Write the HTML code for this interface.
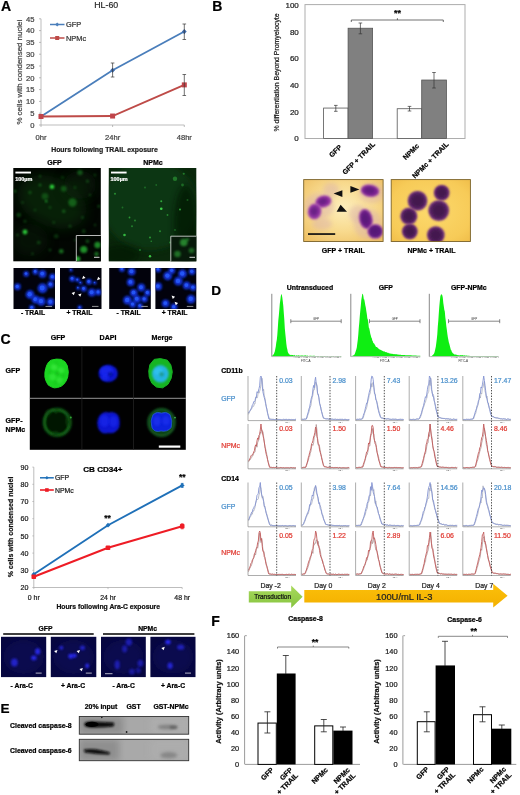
<!DOCTYPE html>
<html><head><meta charset="utf-8"><title>Figure</title>
<style>
html,body{margin:0;padding:0;background:#fff;}
body{width:520px;height:795px;overflow:hidden;}
svg{display:block;font-family:"Liberation Sans", sans-serif;filter:blur(0.3px);}
</style></head>
<body>
<svg width="520" height="795" viewBox="0 0 520 795" style='font-family:"Liberation Sans", sans-serif'>
<rect x="0" y="0" width="520" height="795" fill="#fff"/>
<defs>
<filter id="b05" x="-50%" y="-50%" width="200%" height="200%"><feGaussianBlur stdDeviation="0.5"/></filter>
<filter id="b08" x="-50%" y="-50%" width="200%" height="200%"><feGaussianBlur stdDeviation="0.8"/></filter>
<filter id="b1" x="-50%" y="-50%" width="200%" height="200%"><feGaussianBlur stdDeviation="1"/></filter>
<filter id="b15" x="-50%" y="-50%" width="200%" height="200%"><feGaussianBlur stdDeviation="1.5"/></filter>
<filter id="b2" x="-50%" y="-50%" width="200%" height="200%"><feGaussianBlur stdDeviation="2"/></filter>
<filter id="b12" x="-50%" y="-50%" width="200%" height="200%"><feGaussianBlur stdDeviation="1.2"/></filter>
<filter id="b6" x="-50%" y="-50%" width="200%" height="200%"><feGaussianBlur stdDeviation="6"/></filter>
<filter id="b3" x="-50%" y="-50%" width="200%" height="200%"><feGaussianBlur stdDeviation="3"/></filter>
<radialGradient id="tanA" cx="50%" cy="45%" r="70%"><stop offset="0" stop-color="#fdeebc"/><stop offset="0.55" stop-color="#f8da8e"/><stop offset="1" stop-color="#eec064"/></radialGradient>
<radialGradient id="tanB" cx="50%" cy="50%" r="75%"><stop offset="0" stop-color="#fcd96c"/><stop offset="0.7" stop-color="#f7cb58"/><stop offset="1" stop-color="#eeba46"/></radialGradient>
<linearGradient id="grn" x1="0" y1="0" x2="0" y2="1"><stop offset="0" stop-color="#a9d95c"/><stop offset="1" stop-color="#86c440"/></linearGradient>
<linearGradient id="org" x1="0" y1="0" x2="0" y2="1"><stop offset="0" stop-color="#fcc00a"/><stop offset="1" stop-color="#f3b000"/></linearGradient>
<clipPath id="cA1"><rect x="13.3" y="168" width="87.5" height="93.3"/></clipPath>
<clipPath id="cA2"><rect x="108.8" y="168" width="87.5" height="93.3"/></clipPath>
<clipPath id="cI1"><rect x="76.3" y="235.5" width="24.5" height="25.8"/></clipPath>
<clipPath id="cI2"><rect x="170.8" y="236.2" width="25.5" height="25.1"/></clipPath>
<clipPath id="cB1"><rect x="303.7" y="179.6" width="79.4" height="61.9"/></clipPath>
<clipPath id="cB2"><rect x="391.2" y="179.6" width="79.2" height="61.9"/></clipPath>
<clipPath id="cC"><rect x="29.8" y="346.2" width="156" height="103.6"/></clipPath>
<clipPath id="cE1"><rect x="79.3" y="716.5" width="109.4" height="17.7"/></clipPath>
<clipPath id="cE2"><rect x="79.3" y="739.3" width="109.4" height="21.4"/></clipPath>
</defs>
<text x="1.0" y="10.8" font-size="14" font-weight="bold" fill="#000" stroke="#000" stroke-width="0.22" text-anchor="start">A</text>
<text x="106.2" y="8" font-size="8.8" font-weight="normal" fill="#2a2a2a" stroke="#2a2a2a" stroke-width="0.22" text-anchor="middle">HL-60</text>
<line x1="41" y1="18.80000000000001" x2="41" y2="125.0" stroke="#a0a0a0" stroke-width="0.7"/>
<line x1="41" y1="125.0" x2="184.3" y2="125.0" stroke="#a0a0a0" stroke-width="0.7"/>
<line x1="39" y1="125.0" x2="41" y2="125.0" stroke="#a0a0a0" stroke-width="0.7"/>
<text x="34.4" y="127.7" font-size="7.6" font-weight="normal" fill="#444" stroke="#444" stroke-width="0.22" text-anchor="end">0</text>
<line x1="39" y1="113.2" x2="41" y2="113.2" stroke="#a0a0a0" stroke-width="0.7"/>
<text x="34.4" y="115.9" font-size="7.6" font-weight="normal" fill="#444" stroke="#444" stroke-width="0.22" text-anchor="end">5</text>
<line x1="39" y1="101.4" x2="41" y2="101.4" stroke="#a0a0a0" stroke-width="0.7"/>
<text x="34.4" y="104.10000000000001" font-size="7.6" font-weight="normal" fill="#444" stroke="#444" stroke-width="0.22" text-anchor="end">10</text>
<line x1="39" y1="89.6" x2="41" y2="89.6" stroke="#a0a0a0" stroke-width="0.7"/>
<text x="34.4" y="92.3" font-size="7.6" font-weight="normal" fill="#444" stroke="#444" stroke-width="0.22" text-anchor="end">15</text>
<line x1="39" y1="77.80000000000001" x2="41" y2="77.80000000000001" stroke="#a0a0a0" stroke-width="0.7"/>
<text x="34.4" y="80.50000000000001" font-size="7.6" font-weight="normal" fill="#444" stroke="#444" stroke-width="0.22" text-anchor="end">20</text>
<line x1="39" y1="66.0" x2="41" y2="66.0" stroke="#a0a0a0" stroke-width="0.7"/>
<text x="34.4" y="68.7" font-size="7.6" font-weight="normal" fill="#444" stroke="#444" stroke-width="0.22" text-anchor="end">25</text>
<line x1="39" y1="54.2" x2="41" y2="54.2" stroke="#a0a0a0" stroke-width="0.7"/>
<text x="34.4" y="56.900000000000006" font-size="7.6" font-weight="normal" fill="#444" stroke="#444" stroke-width="0.22" text-anchor="end">30</text>
<line x1="39" y1="42.400000000000006" x2="41" y2="42.400000000000006" stroke="#a0a0a0" stroke-width="0.7"/>
<text x="34.4" y="45.10000000000001" font-size="7.6" font-weight="normal" fill="#444" stroke="#444" stroke-width="0.22" text-anchor="end">35</text>
<line x1="39" y1="30.60000000000001" x2="41" y2="30.60000000000001" stroke="#a0a0a0" stroke-width="0.7"/>
<text x="34.4" y="33.30000000000001" font-size="7.6" font-weight="normal" fill="#444" stroke="#444" stroke-width="0.22" text-anchor="end">40</text>
<line x1="39" y1="18.80000000000001" x2="41" y2="18.80000000000001" stroke="#a0a0a0" stroke-width="0.7"/>
<text x="34.4" y="21.50000000000001" font-size="7.6" font-weight="normal" fill="#444" stroke="#444" stroke-width="0.22" text-anchor="end">45</text>
<line x1="41" y1="125.0" x2="41" y2="127.0" stroke="#a0a0a0" stroke-width="0.7"/>
<line x1="112.6" y1="125.0" x2="112.6" y2="127.0" stroke="#a0a0a0" stroke-width="0.7"/>
<line x1="184.3" y1="125.0" x2="184.3" y2="127.0" stroke="#a0a0a0" stroke-width="0.7"/>
<text x="21.6" y="72.2" font-size="7.9" font-weight="normal" fill="#444" stroke="#444" stroke-width="0.22" text-anchor="middle" transform="rotate(-90 21.6 72.2)">% cells with condensed nuclei</text>
<text x="41" y="139.8" font-size="7.6" font-weight="normal" fill="#444" stroke="#444" stroke-width="0.22" text-anchor="middle">0hr</text>
<text x="112.6" y="139.8" font-size="7.6" font-weight="normal" fill="#444" stroke="#444" stroke-width="0.22" text-anchor="middle">24hr</text>
<text x="184.3" y="139.8" font-size="7.6" font-weight="normal" fill="#444" stroke="#444" stroke-width="0.22" text-anchor="middle">48hr</text>
<text x="104.5" y="151.5" font-size="6.9" font-weight="bold" fill="#222" stroke="#222" stroke-width="0.22" text-anchor="middle">Hours following TRAIL exposure</text>
<polyline fill="none" stroke="#4a7ebb" stroke-width="1.8" points="41.0,116.5 112.6,70.2 184.3,31.5"/>
<polyline fill="none" stroke="#be4b48" stroke-width="1.9" points="41.0,116.5 112.6,116.0 184.3,84.9"/>
<path d="M41 113.90400000000001 L43.4 116.504 L41 119.104 L38.6 116.504 Z" fill="#3f6cad"/>
<path d="M112.6 67.64800000000001 L115.0 70.248 L112.6 72.848 L110.19999999999999 70.248 Z" fill="#3f6cad"/>
<path d="M184.3 28.943999999999996 L186.70000000000002 31.543999999999997 L184.3 34.144 L181.9 31.543999999999997 Z" fill="#3f6cad"/>
<rect x="38.5" y="114.004" width="5" height="5" fill="#c0444a" stroke="none" stroke-width="1"/>
<rect x="110.1" y="113.532" width="5" height="5" fill="#c0444a" stroke="none" stroke-width="1"/>
<rect x="181.8" y="82.38" width="5" height="5" fill="#c0444a" stroke="none" stroke-width="1"/>
<line x1="112.6" y1="63" x2="112.6" y2="77" stroke="#333" stroke-width="0.7"/>
<line x1="110.8" y1="63" x2="114.39999999999999" y2="63" stroke="#333" stroke-width="0.7"/>
<line x1="110.8" y1="77" x2="114.39999999999999" y2="77" stroke="#333" stroke-width="0.7"/>
<line x1="184.3" y1="24" x2="184.3" y2="39.5" stroke="#333" stroke-width="0.7"/>
<line x1="182.5" y1="24" x2="186.10000000000002" y2="24" stroke="#333" stroke-width="0.7"/>
<line x1="182.5" y1="39.5" x2="186.10000000000002" y2="39.5" stroke="#333" stroke-width="0.7"/>
<line x1="184.3" y1="74.5" x2="184.3" y2="95.5" stroke="#333" stroke-width="0.7"/>
<line x1="182.5" y1="74.5" x2="186.10000000000002" y2="74.5" stroke="#333" stroke-width="0.7"/>
<line x1="182.5" y1="95.5" x2="186.10000000000002" y2="95.5" stroke="#333" stroke-width="0.7"/>
<line x1="50" y1="24.5" x2="64.5" y2="24.5" stroke="#4a7ebb" stroke-width="1.5"/>
<path d="M57.2 22.5 L59.2 24.5 L57.2 26.5 L55.2 24.5 Z" fill="#4a7ebb"/>
<text x="66" y="27.3" font-size="7.4" font-weight="normal" fill="#333" stroke="#333" stroke-width="0.22" text-anchor="start">GFP</text>
<line x1="50" y1="38" x2="64.5" y2="38" stroke="#be4b48" stroke-width="1.5"/>
<rect x="55.2" y="36" width="4" height="4" fill="#be4b48" stroke="none" stroke-width="1"/>
<text x="66" y="40.8" font-size="7.4" font-weight="normal" fill="#333" stroke="#333" stroke-width="0.22" text-anchor="start">NPMc</text>
<text x="54.4" y="164.8" font-size="7" font-weight="bold" fill="#000" stroke="#000" stroke-width="0.22" text-anchor="middle">GFP</text>
<text x="153" y="164.6" font-size="7" font-weight="bold" fill="#000" stroke="#000" stroke-width="0.22" text-anchor="middle">NPMc</text>
<rect x="13.3" y="168" width="87.5" height="93.3" fill="#020602" stroke="none" stroke-width="1"/>
<g clip-path="url(#cA1)">
<ellipse cx="52.00" cy="202.00" rx="36.00" ry="24.00" fill="#0f3a10" opacity="0.5" filter="url(#b6)" transform="rotate(25 52 202)"/>
<ellipse cx="30.00" cy="240.00" rx="18.00" ry="16.00" fill="#0a2a0b" opacity="0.35" filter="url(#b6)"/>
<ellipse cx="80.00" cy="185.00" rx="16.00" ry="14.00" fill="#0a2a0b" opacity="0.5" filter="url(#b6)"/>
<circle cx="52.00" cy="186.75" r="2.31" fill="#35f044" opacity="0.85" filter="url(#b08)"/>
<circle cx="72.50" cy="202.50" r="4.20" fill="#35f044" opacity="0.30" filter="url(#b12)"/>
<circle cx="63.75" cy="188.75" r="2.94" fill="#35f044" opacity="0.25" filter="url(#b12)"/>
<circle cx="25.00" cy="232.00" r="2.42" fill="#35f044" opacity="0.81" filter="url(#b08)"/>
<circle cx="80.00" cy="172.50" r="2.73" fill="#35f044" opacity="0.29" filter="url(#b12)"/>
<circle cx="61.25" cy="251.25" r="2.31" fill="#35f044" opacity="0.43" filter="url(#b12)"/>
<circle cx="45.00" cy="196.25" r="3.36" fill="#35f044" opacity="0.22" filter="url(#b12)"/>
<circle cx="18.75" cy="215.00" r="2.31" fill="#35f044" opacity="0.25" filter="url(#b12)"/>
<circle cx="40.00" cy="185.00" r="1.37" fill="#35f044" opacity="0.36" filter="url(#b12)"/>
<circle cx="30.00" cy="192.50" r="1.68" fill="#35f044" opacity="0.22" filter="url(#b12)"/>
<circle cx="87.50" cy="181.25" r="1.47" fill="#35f044" opacity="0.25" filter="url(#b12)"/>
<circle cx="15.00" cy="191.25" r="1.47" fill="#35f044" opacity="0.29" filter="url(#b12)"/>
<circle cx="63.75" cy="211.25" r="1.68" fill="#35f044" opacity="0.29" filter="url(#b12)"/>
<circle cx="82.50" cy="217.50" r="1.37" fill="#35f044" opacity="0.25" filter="url(#b12)"/>
<circle cx="46.25" cy="201.25" r="1.05" fill="#35f044" opacity="0.81" filter="url(#b08)"/>
<circle cx="98.75" cy="206.25" r="1.47" fill="#35f044" opacity="0.25" filter="url(#b12)"/>
<circle cx="25.00" cy="221.25" r="1.37" fill="#35f044" opacity="0.25" filter="url(#b12)"/>
<circle cx="38.75" cy="242.50" r="1.78" fill="#35f044" opacity="0.22" filter="url(#b12)"/>
<circle cx="50.00" cy="250.00" r="1.37" fill="#35f044" opacity="0.25" filter="url(#b12)"/>
<circle cx="32.50" cy="253.75" r="1.37" fill="#35f044" opacity="0.22" filter="url(#b12)"/>
<circle cx="83.75" cy="231.25" r="1.89" fill="#35f044" opacity="0.22" filter="url(#b12)"/>
<circle cx="17.50" cy="235.00" r="1.37" fill="#35f044" opacity="0.25" filter="url(#b12)"/>
<circle cx="70.00" cy="226.25" r="1.47" fill="#35f044" opacity="0.22" filter="url(#b12)"/>
<circle cx="56.25" cy="236.25" r="2.31" fill="#35f044" opacity="0.18" filter="url(#b12)"/>
<circle cx="40.00" cy="176.25" r="1.16" fill="#35f044" opacity="0.29" filter="url(#b12)"/>
<circle cx="62.50" cy="177.50" r="1.16" fill="#35f044" opacity="0.25" filter="url(#b12)"/>
<circle cx="75.00" cy="187.50" r="1.26" fill="#35f044" opacity="0.22" filter="url(#b12)"/>
<circle cx="90.00" cy="195.00" r="1.26" fill="#35f044" opacity="0.22" filter="url(#b12)"/>
<circle cx="35.00" cy="210.00" r="1.37" fill="#35f044" opacity="0.18" filter="url(#b12)"/>
<circle cx="22.50" cy="202.50" r="1.26" fill="#35f044" opacity="0.22" filter="url(#b12)"/>
<circle cx="53.75" cy="222.50" r="1.26" fill="#35f044" opacity="0.22" filter="url(#b12)"/>
<circle cx="75.00" cy="240.00" r="1.37" fill="#35f044" opacity="0.18" filter="url(#b12)"/>
<circle cx="95.00" cy="225.00" r="1.26" fill="#35f044" opacity="0.22" filter="url(#b12)"/>
<circle cx="30.00" cy="180.00" r="1.26" fill="#35f044" opacity="0.22" filter="url(#b12)"/>
<circle cx="95.00" cy="175.00" r="1.26" fill="#35f044" opacity="0.22" filter="url(#b12)"/>
<circle cx="50.00" cy="207.50" r="1.47" fill="#35f044" opacity="0.18" filter="url(#b12)"/>
</g>
<rect x="76.3" y="235.5" width="24.5" height="25.8" fill="#020702" stroke="none" stroke-width="1"/>
<g clip-path="url(#cI1)">
<circle cx="83.75" cy="249.50" r="3.60" fill="#2fd03e" opacity="0.68" filter="url(#b08)"/>
<circle cx="97.50" cy="245.00" r="3.20" fill="#2fd03e" opacity="0.64" filter="url(#b08)"/>
<circle cx="96.50" cy="254.00" r="2.20" fill="#2fd03e" opacity="0.51" filter="url(#b08)"/>
<circle cx="77.50" cy="259.00" r="2.80" fill="#2fd03e" opacity="0.81" filter="url(#b08)"/>
<circle cx="87.50" cy="241.25" r="1.80" fill="#2fd03e" opacity="0.34" filter="url(#b08)"/>
</g>
<path d="M76.3 261.3 V235.5 H100.8" fill="none" stroke="#e8e8e8" stroke-width="0.8"/>
<line x1="94" y1="257.3" x2="99.5" y2="257.3" stroke="#eee" stroke-width="0.9"/>
<rect x="15.4" y="171.6" width="15.6" height="1.9" fill="#fff" stroke="none" stroke-width="1"/>
<text x="15.2" y="181" font-size="5.5" font-weight="bold" fill="#fff" stroke="#fff" stroke-width="0.22" text-anchor="start">100µm</text>
<rect x="108.8" y="168" width="87.5" height="93.3" fill="#0a270b" stroke="none" stroke-width="1"/>
<g clip-path="url(#cA2)">
<ellipse cx="150.00" cy="205.00" rx="48.00" ry="45.00" fill="#103a13" opacity="0.8" filter="url(#b3)"/>
<ellipse cx="186.00" cy="225.00" rx="12.00" ry="40.00" fill="#061806" opacity="0.7" filter="url(#b3)"/>
<ellipse cx="120.00" cy="255.00" rx="20.00" ry="10.00" fill="#061806" opacity="0.6" filter="url(#b3)"/>
<circle cx="161.25" cy="208.75" r="1.30" fill="#4dff5a" opacity="0.76" filter="url(#b05)"/>
<circle cx="161.25" cy="201.25" r="1.00" fill="#4dff5a" opacity="0.56" filter="url(#b05)"/>
<circle cx="180.00" cy="209.50" r="1.00" fill="#4dff5a" opacity="0.56" filter="url(#b05)"/>
<circle cx="175.00" cy="178.75" r="2.20" fill="#4dff5a" opacity="0.32" filter="url(#b05)"/>
<circle cx="124.50" cy="235.00" r="1.30" fill="#4dff5a" opacity="0.64" filter="url(#b05)"/>
<circle cx="129.50" cy="217.50" r="0.90" fill="#4dff5a" opacity="0.48" filter="url(#b05)"/>
<circle cx="132.00" cy="226.25" r="0.90" fill="#4dff5a" opacity="0.40" filter="url(#b05)"/>
<circle cx="135.00" cy="220.50" r="0.90" fill="#4dff5a" opacity="0.40" filter="url(#b05)"/>
<circle cx="150.00" cy="256.25" r="1.20" fill="#4dff5a" opacity="0.72" filter="url(#b05)"/>
<circle cx="150.00" cy="237.50" r="1.00" fill="#4dff5a" opacity="0.48" filter="url(#b05)"/>
<circle cx="115.00" cy="193.75" r="1.10" fill="#4dff5a" opacity="0.40" filter="url(#b05)"/>
<circle cx="160.00" cy="231.25" r="1.00" fill="#4dff5a" opacity="0.40" filter="url(#b05)"/>
<circle cx="167.50" cy="215.00" r="0.90" fill="#4dff5a" opacity="0.40" filter="url(#b05)"/>
<circle cx="183.75" cy="173.75" r="1.10" fill="#4dff5a" opacity="0.36" filter="url(#b05)"/>
<circle cx="170.00" cy="242.50" r="0.90" fill="#4dff5a" opacity="0.36" filter="url(#b05)"/>
<circle cx="182.50" cy="185.00" r="1.40" fill="#4dff5a" opacity="0.28" filter="url(#b05)"/>
<circle cx="140.00" cy="250.00" r="0.90" fill="#4dff5a" opacity="0.40" filter="url(#b05)"/>
<circle cx="151.25" cy="241.25" r="0.80" fill="#4dff5a" opacity="0.40" filter="url(#b05)"/>
<circle cx="175.00" cy="230.00" r="0.90" fill="#4dff5a" opacity="0.28" filter="url(#b05)"/>
<circle cx="145.00" cy="187.50" r="0.90" fill="#4dff5a" opacity="0.28" filter="url(#b05)"/>
<circle cx="122.50" cy="207.50" r="0.90" fill="#4dff5a" opacity="0.28" filter="url(#b05)"/>
<circle cx="187.50" cy="200.00" r="1.00" fill="#4dff5a" opacity="0.24" filter="url(#b05)"/>
<circle cx="156.25" cy="185.00" r="0.90" fill="#4dff5a" opacity="0.24" filter="url(#b05)"/>
</g>
<rect x="170.8" y="236.2" width="25.5" height="25.1" fill="#07190a" stroke="none" stroke-width="1"/>
<g clip-path="url(#cI2)">
<circle cx="183.75" cy="242.50" r="3.80" fill="#3fd84c" opacity="0.55" filter="url(#b08)"/>
<circle cx="177.50" cy="254.00" r="3.30" fill="#3fd84c" opacity="0.45" filter="url(#b08)"/>
<circle cx="191.50" cy="250.50" r="2.80" fill="#3fd84c" opacity="0.4" filter="url(#b08)"/>
<circle cx="187.50" cy="239.50" r="1.60" fill="#3fd84c" opacity="0.5" filter="url(#b08)"/>
</g>
<path d="M170.8 261.3 V236.2 H196.3" fill="none" stroke="#e8e8e8" stroke-width="0.8"/>
<line x1="189.5" y1="257.3" x2="195" y2="257.3" stroke="#eee" stroke-width="0.9"/>
<rect x="111" y="171.6" width="15.6" height="1.9" fill="#fff" stroke="none" stroke-width="1"/>
<text x="110.5" y="181.2" font-size="5.5" font-weight="bold" fill="#fff" stroke="#fff" stroke-width="0.22" text-anchor="start">100µm</text>
<clipPath id="d1"><rect x="13.5" y="268" width="41.5" height="41"/></clipPath>
<rect x="13.5" y="268" width="41.5" height="41" fill="#02020c" stroke="none" stroke-width="1"/>
<g clip-path="url(#d1)">
<circle cx="17.50" cy="286.75" r="3.40" fill="#1238e8" opacity="0.9" filter="url(#b08)"/>
<circle cx="17.20" cy="286.45" r="1.65" fill="#2a60ff" opacity="0.8" filter="url(#b05)"/>
<circle cx="26.25" cy="273.90" r="2.90" fill="#1238e8" opacity="0.9" filter="url(#b08)"/>
<circle cx="25.95" cy="273.60" r="1.38" fill="#2a60ff" opacity="0.8" filter="url(#b05)"/>
<circle cx="35.40" cy="271.75" r="2.90" fill="#1238e8" opacity="0.9" filter="url(#b08)"/>
<circle cx="35.10" cy="271.45" r="1.38" fill="#2a60ff" opacity="0.8" filter="url(#b05)"/>
<circle cx="42.50" cy="273.90" r="3.90" fill="#1238e8" opacity="0.9" filter="url(#b08)"/>
<circle cx="42.20" cy="273.60" r="1.93" fill="#2a60ff" opacity="0.8" filter="url(#b05)"/>
<circle cx="52.50" cy="277.00" r="3.40" fill="#1238e8" opacity="0.9" filter="url(#b08)"/>
<circle cx="52.20" cy="276.70" r="1.65" fill="#2a60ff" opacity="0.8" filter="url(#b05)"/>
<circle cx="50.60" cy="284.50" r="3.40" fill="#1238e8" opacity="0.9" filter="url(#b08)"/>
<circle cx="50.30" cy="284.20" r="1.65" fill="#2a60ff" opacity="0.8" filter="url(#b05)"/>
<circle cx="42.50" cy="288.25" r="4.90" fill="#1238e8" opacity="0.9" filter="url(#b08)"/>
<circle cx="42.20" cy="287.95" r="2.48" fill="#2a60ff" opacity="0.8" filter="url(#b05)"/>
<circle cx="30.00" cy="294.50" r="4.40" fill="#1238e8" opacity="0.9" filter="url(#b08)"/>
<circle cx="29.70" cy="294.20" r="2.20" fill="#2a60ff" opacity="0.8" filter="url(#b05)"/>
<circle cx="35.60" cy="299.50" r="3.90" fill="#1238e8" opacity="0.9" filter="url(#b08)"/>
<circle cx="35.30" cy="299.20" r="1.93" fill="#2a60ff" opacity="0.8" filter="url(#b05)"/>
<circle cx="41.25" cy="301.40" r="4.40" fill="#1238e8" opacity="0.9" filter="url(#b08)"/>
<circle cx="40.95" cy="301.10" r="2.20" fill="#2a60ff" opacity="0.8" filter="url(#b05)"/>
<circle cx="50.60" cy="302.00" r="3.90" fill="#1238e8" opacity="0.9" filter="url(#b08)"/>
<circle cx="50.30" cy="301.70" r="1.93" fill="#2a60ff" opacity="0.8" filter="url(#b05)"/>
<circle cx="31.90" cy="307.60" r="2.90" fill="#1238e8" opacity="0.9" filter="url(#b08)"/>
<circle cx="31.60" cy="307.30" r="1.38" fill="#2a60ff" opacity="0.8" filter="url(#b05)"/>
</g>
<line x1="45.5" y1="306.4" x2="52.0" y2="306.4" stroke="#bbb" stroke-width="0.8"/>
<clipPath id="d2"><rect x="60" y="268" width="41.5" height="41"/></clipPath>
<rect x="60" y="268" width="41.5" height="41" fill="#02020c" stroke="none" stroke-width="1"/>
<g clip-path="url(#d2)">
<circle cx="72.30" cy="278.70" r="3.00" fill="#1238e8" opacity="0.9" filter="url(#b08)"/>
<circle cx="72.00" cy="278.40" r="1.43" fill="#2a60ff" opacity="0.8" filter="url(#b05)"/>
<circle cx="77.50" cy="279.90" r="2.30" fill="#1238e8" opacity="0.9" filter="url(#b08)"/>
<circle cx="77.20" cy="279.60" r="1.04" fill="#2a60ff" opacity="0.8" filter="url(#b05)"/>
<circle cx="80.60" cy="282.80" r="1.90" fill="#1238e8" opacity="0.9" filter="url(#b08)"/>
<circle cx="80.30" cy="282.50" r="0.83" fill="#2a60ff" opacity="0.8" filter="url(#b05)"/>
<circle cx="89.00" cy="281.80" r="3.00" fill="#1238e8" opacity="0.9" filter="url(#b08)"/>
<circle cx="88.70" cy="281.50" r="1.43" fill="#2a60ff" opacity="0.8" filter="url(#b05)"/>
<circle cx="94.80" cy="282.80" r="1.90" fill="#1238e8" opacity="0.9" filter="url(#b08)"/>
<circle cx="94.50" cy="282.50" r="0.83" fill="#2a60ff" opacity="0.8" filter="url(#b05)"/>
<circle cx="78.10" cy="288.00" r="1.90" fill="#1238e8" opacity="0.9" filter="url(#b08)"/>
<circle cx="77.80" cy="287.70" r="0.83" fill="#2a60ff" opacity="0.8" filter="url(#b05)"/>
<circle cx="83.80" cy="288.80" r="3.00" fill="#1238e8" opacity="0.9" filter="url(#b08)"/>
<circle cx="83.50" cy="288.50" r="1.43" fill="#2a60ff" opacity="0.8" filter="url(#b05)"/>
<circle cx="91.90" cy="292.60" r="4.00" fill="#1238e8" opacity="0.9" filter="url(#b08)"/>
<circle cx="91.60" cy="292.30" r="1.98" fill="#2a60ff" opacity="0.8" filter="url(#b05)"/>
<circle cx="98.30" cy="292.20" r="3.20" fill="#1238e8" opacity="0.9" filter="url(#b08)"/>
<circle cx="98.00" cy="291.90" r="1.54" fill="#2a60ff" opacity="0.8" filter="url(#b05)"/>
<circle cx="79.80" cy="307.60" r="2.40" fill="#1238e8" opacity="0.9" filter="url(#b08)"/>
<circle cx="79.50" cy="307.30" r="1.10" fill="#2a60ff" opacity="0.8" filter="url(#b05)"/>
<circle cx="71.10" cy="270.10" r="1.80" fill="#1238e8" opacity="0.9" filter="url(#b08)"/>
<circle cx="70.80" cy="269.80" r="0.77" fill="#2a60ff" opacity="0.8" filter="url(#b05)"/>
<path d="M0 0 L-3.3 -1.6 L-3.3 1.6 Z" fill="#fff" transform="translate(82.1 279.1) rotate(135)"/>
<path d="M0 0 L-3.3 -1.6 L-3.3 1.6 Z" fill="#fff" transform="translate(97.0 280.2) rotate(135)"/>
<path d="M0 0 L-3.3 -1.6 L-3.3 1.6 Z" fill="#fff" transform="translate(75.0 291.8) rotate(-45)"/>
<path d="M0 0 L-3.3 -1.6 L-3.3 1.6 Z" fill="#fff" transform="translate(81.5 293.4) rotate(-45)"/>
</g>
<line x1="92.0" y1="306.4" x2="98.5" y2="306.4" stroke="#bbb" stroke-width="0.8"/>
<clipPath id="d3"><rect x="109.2" y="268" width="41.6" height="41"/></clipPath>
<rect x="109.2" y="268" width="41.6" height="41" fill="#02020c" stroke="none" stroke-width="1"/>
<g clip-path="url(#d3)">
<circle cx="131.70" cy="271.60" r="3.90" fill="#1238e8" opacity="0.9" filter="url(#b08)"/>
<circle cx="131.40" cy="271.30" r="1.93" fill="#2a60ff" opacity="0.8" filter="url(#b05)"/>
<circle cx="130.70" cy="282.20" r="3.90" fill="#1238e8" opacity="0.9" filter="url(#b08)"/>
<circle cx="130.40" cy="281.90" r="1.93" fill="#2a60ff" opacity="0.8" filter="url(#b05)"/>
<circle cx="141.30" cy="287.50" r="3.90" fill="#1238e8" opacity="0.9" filter="url(#b08)"/>
<circle cx="141.00" cy="287.20" r="1.93" fill="#2a60ff" opacity="0.8" filter="url(#b05)"/>
<circle cx="133.80" cy="292.80" r="3.90" fill="#1238e8" opacity="0.9" filter="url(#b08)"/>
<circle cx="133.50" cy="292.50" r="1.93" fill="#2a60ff" opacity="0.8" filter="url(#b05)"/>
<circle cx="147.60" cy="292.80" r="3.40" fill="#1238e8" opacity="0.9" filter="url(#b08)"/>
<circle cx="147.30" cy="292.50" r="1.65" fill="#2a60ff" opacity="0.8" filter="url(#b05)"/>
<circle cx="127.50" cy="300.20" r="4.40" fill="#1238e8" opacity="0.9" filter="url(#b08)"/>
<circle cx="127.20" cy="299.90" r="2.20" fill="#2a60ff" opacity="0.8" filter="url(#b05)"/>
<circle cx="137.00" cy="299.10" r="3.90" fill="#1238e8" opacity="0.9" filter="url(#b08)"/>
<circle cx="136.70" cy="298.80" r="1.93" fill="#2a60ff" opacity="0.8" filter="url(#b05)"/>
<circle cx="144.40" cy="299.10" r="3.40" fill="#1238e8" opacity="0.9" filter="url(#b08)"/>
<circle cx="144.10" cy="298.80" r="1.65" fill="#2a60ff" opacity="0.8" filter="url(#b05)"/>
<circle cx="132.80" cy="304.40" r="3.40" fill="#1238e8" opacity="0.9" filter="url(#b08)"/>
<circle cx="132.50" cy="304.10" r="1.65" fill="#2a60ff" opacity="0.8" filter="url(#b05)"/>
<circle cx="122.00" cy="269.00" r="2.90" fill="#1238e8" opacity="0.9" filter="url(#b08)"/>
<circle cx="121.70" cy="268.70" r="1.38" fill="#2a60ff" opacity="0.8" filter="url(#b05)"/>
<circle cx="140.00" cy="306.00" r="2.90" fill="#1238e8" opacity="0.9" filter="url(#b08)"/>
<circle cx="139.70" cy="305.70" r="1.38" fill="#2a60ff" opacity="0.8" filter="url(#b05)"/>
</g>
<line x1="141.3" y1="306.4" x2="147.8" y2="306.4" stroke="#bbb" stroke-width="0.8"/>
<clipPath id="d4"><rect x="155.4" y="268" width="40.9" height="41"/></clipPath>
<rect x="155.4" y="268" width="40.9" height="41" fill="#02020c" stroke="none" stroke-width="1"/>
<g clip-path="url(#d4)">
<circle cx="158.20" cy="269.50" r="2.90" fill="#1238e8" opacity="0.9" filter="url(#b08)"/>
<circle cx="157.90" cy="269.20" r="1.38" fill="#2a60ff" opacity="0.8" filter="url(#b05)"/>
<circle cx="167.70" cy="275.90" r="4.40" fill="#1238e8" opacity="0.9" filter="url(#b08)"/>
<circle cx="167.40" cy="275.60" r="2.20" fill="#2a60ff" opacity="0.8" filter="url(#b05)"/>
<circle cx="171.90" cy="270.60" r="3.40" fill="#1238e8" opacity="0.9" filter="url(#b08)"/>
<circle cx="171.60" cy="270.30" r="1.65" fill="#2a60ff" opacity="0.8" filter="url(#b05)"/>
<circle cx="182.50" cy="273.75" r="4.40" fill="#1238e8" opacity="0.9" filter="url(#b08)"/>
<circle cx="182.20" cy="273.45" r="2.20" fill="#2a60ff" opacity="0.8" filter="url(#b05)"/>
<circle cx="192.00" cy="271.60" r="3.40" fill="#1238e8" opacity="0.9" filter="url(#b08)"/>
<circle cx="191.70" cy="271.30" r="1.65" fill="#2a60ff" opacity="0.8" filter="url(#b05)"/>
<circle cx="178.30" cy="281.20" r="4.40" fill="#1238e8" opacity="0.9" filter="url(#b08)"/>
<circle cx="178.00" cy="280.90" r="2.20" fill="#2a60ff" opacity="0.8" filter="url(#b05)"/>
<circle cx="186.70" cy="285.40" r="3.90" fill="#1238e8" opacity="0.9" filter="url(#b08)"/>
<circle cx="186.40" cy="285.10" r="1.93" fill="#2a60ff" opacity="0.8" filter="url(#b05)"/>
<circle cx="158.20" cy="286.40" r="3.90" fill="#1238e8" opacity="0.9" filter="url(#b08)"/>
<circle cx="157.90" cy="286.10" r="1.93" fill="#2a60ff" opacity="0.8" filter="url(#b05)"/>
<circle cx="193.10" cy="287.50" r="3.40" fill="#1238e8" opacity="0.9" filter="url(#b08)"/>
<circle cx="192.80" cy="287.20" r="1.65" fill="#2a60ff" opacity="0.8" filter="url(#b05)"/>
<circle cx="191.00" cy="299.10" r="4.40" fill="#1238e8" opacity="0.9" filter="url(#b08)"/>
<circle cx="190.70" cy="298.80" r="2.20" fill="#2a60ff" opacity="0.8" filter="url(#b05)"/>
<circle cx="165.60" cy="303.40" r="3.90" fill="#1238e8" opacity="0.9" filter="url(#b08)"/>
<circle cx="165.30" cy="303.10" r="1.93" fill="#2a60ff" opacity="0.8" filter="url(#b05)"/>
<circle cx="174.00" cy="307.00" r="3.40" fill="#1238e8" opacity="0.9" filter="url(#b08)"/>
<circle cx="173.70" cy="306.70" r="1.65" fill="#2a60ff" opacity="0.8" filter="url(#b05)"/>
<path d="M0 0 L-3.3 -1.6 L-3.3 1.6 Z" fill="#fff" transform="translate(171.6 295.6) rotate(-135)"/>
<path d="M0 0 L-3.3 -1.6 L-3.3 1.6 Z" fill="#fff" transform="translate(174.6 301.8) rotate(-135)"/>
</g>
<line x1="186.8" y1="306.4" x2="193.3" y2="306.4" stroke="#bbb" stroke-width="0.8"/>
<text x="33" y="315.2" font-size="6.8" font-weight="bold" fill="#000" stroke="#000" stroke-width="0.22" text-anchor="middle">- TRAIL</text>
<text x="79.4" y="315.2" font-size="6.8" font-weight="bold" fill="#000" stroke="#000" stroke-width="0.22" text-anchor="middle">+ TRAIL</text>
<text x="128.6" y="315.2" font-size="6.8" font-weight="bold" fill="#000" stroke="#000" stroke-width="0.22" text-anchor="middle">- TRAIL</text>
<text x="174.6" y="315.2" font-size="6.8" font-weight="bold" fill="#000" stroke="#000" stroke-width="0.22" text-anchor="middle">+ TRAIL</text>
<text x="212.2" y="10.8" font-size="14" font-weight="bold" fill="#000" stroke="#000" stroke-width="0.22" text-anchor="start">B</text>
<rect x="305" y="4.6" width="160" height="133.9" fill="none" stroke="#adadad" stroke-width="1"/>
<text x="298.8" y="141.3" font-size="8" font-weight="normal" fill="#222" stroke="#222" stroke-width="0.22" text-anchor="end">0</text>
<text x="298.8" y="114.6" font-size="8" font-weight="normal" fill="#222" stroke="#222" stroke-width="0.22" text-anchor="end">20</text>
<text x="298.8" y="87.89999999999999" font-size="8" font-weight="normal" fill="#222" stroke="#222" stroke-width="0.22" text-anchor="end">40</text>
<text x="298.8" y="61.2" font-size="8" font-weight="normal" fill="#222" stroke="#222" stroke-width="0.22" text-anchor="end">60</text>
<text x="298.8" y="34.5" font-size="8" font-weight="normal" fill="#222" stroke="#222" stroke-width="0.22" text-anchor="end">80</text>
<text x="298.8" y="7.8" font-size="8" font-weight="normal" fill="#222" stroke="#222" stroke-width="0.22" text-anchor="end">100</text>
<text x="279.4" y="72.5" font-size="6.9" font-weight="normal" fill="#1a1a1a" stroke="#1a1a1a" stroke-width="0.22" text-anchor="middle" transform="rotate(-90 279.4 72.5)">% differentiation Beyond Promyelocyte</text>
<rect x="323.6" y="108.062" width="24.5" height="30.438000000000002" fill="#fff" stroke="#555" stroke-width="0.8"/>
<rect x="348.1" y="28.229000000000013" width="24.5" height="110.27099999999999" fill="#808080" stroke="#555" stroke-width="0.8"/>
<rect x="397.2" y="108.7295" width="24.5" height="29.7705" fill="#fff" stroke="#555" stroke-width="0.8"/>
<rect x="421.7" y="80.02700000000002" width="24.7" height="58.472999999999985" fill="#808080" stroke="#555" stroke-width="0.8"/>
<line x1="335.8" y1="105.4" x2="335.8" y2="111.3" stroke="#333" stroke-width="0.7"/>
<line x1="334.0" y1="105.4" x2="337.6" y2="105.4" stroke="#333" stroke-width="0.7"/>
<line x1="334.0" y1="111.3" x2="337.6" y2="111.3" stroke="#333" stroke-width="0.7"/>
<line x1="360.4" y1="23" x2="360.4" y2="33.8" stroke="#333" stroke-width="0.7"/>
<line x1="358.59999999999997" y1="23" x2="362.2" y2="23" stroke="#333" stroke-width="0.7"/>
<line x1="358.59999999999997" y1="33.8" x2="362.2" y2="33.8" stroke="#333" stroke-width="0.7"/>
<line x1="409.5" y1="106.4" x2="409.5" y2="111" stroke="#333" stroke-width="0.7"/>
<line x1="407.7" y1="106.4" x2="411.3" y2="106.4" stroke="#333" stroke-width="0.7"/>
<line x1="407.7" y1="111" x2="411.3" y2="111" stroke="#333" stroke-width="0.7"/>
<line x1="434.0" y1="72.5" x2="434.0" y2="88" stroke="#333" stroke-width="0.7"/>
<line x1="432.2" y1="72.5" x2="435.8" y2="72.5" stroke="#333" stroke-width="0.7"/>
<line x1="432.2" y1="88" x2="435.8" y2="88" stroke="#333" stroke-width="0.7"/>
<path d="M351.3 22 V20 H443.3 V22 M397.4 20 V18.2" fill="none" stroke="#333" stroke-width="0.7"/>
<text x="397.6" y="16.2" font-size="9" font-weight="bold" fill="#000" stroke="#000" stroke-width="0.22" text-anchor="middle">**</text>
<text x="342.2" y="147.6" font-size="7" font-weight="bold" fill="#000" stroke="#000" stroke-width="0.22" text-anchor="end" transform="rotate(-45 342.2 147.6)">GFP</text>
<text x="375.5" y="144.8" font-size="7" font-weight="bold" fill="#000" stroke="#000" stroke-width="0.22" text-anchor="end" transform="rotate(-45 375.5 144.8)">GFP + TRAIL</text>
<text x="419.6" y="146.6" font-size="7" font-weight="bold" fill="#000" stroke="#000" stroke-width="0.22" text-anchor="end" transform="rotate(-45 419.6 146.6)">NPMc</text>
<text x="449" y="144.8" font-size="7" font-weight="bold" fill="#000" stroke="#000" stroke-width="0.22" text-anchor="end" transform="rotate(-45 449 144.8)">NPMc + TRAIL</text>
<rect x="303.7" y="179.6" width="79.4" height="61.9" fill="url(#tanA)" stroke="none" stroke-width="1"/>
<g clip-path="url(#cB1)">
<ellipse cx="372.00" cy="193.00" rx="13.00" ry="10.00" fill="#dcb4ac" opacity="0.5" filter="url(#b2)"/>
<ellipse cx="319.00" cy="206.00" rx="15.00" ry="13.00" fill="#dcb4ac" opacity="0.5" filter="url(#b2)"/>
<ellipse cx="368.00" cy="224.00" rx="14.00" ry="15.00" fill="#dcb4ac" opacity="0.5" filter="url(#b2)"/>
<ellipse cx="331.00" cy="190.00" rx="8.00" ry="7.00" fill="#dcb4ac" opacity="0.5" filter="url(#b2)"/>
<ellipse cx="358.00" cy="214.00" rx="9.00" ry="9.00" fill="#dcb4ac" opacity="0.5" filter="url(#b2)"/>
<ellipse cx="322.00" cy="224.00" rx="10.00" ry="6.00" fill="#dcb4ac" opacity="0.5" filter="url(#b2)"/>
<ellipse cx="370.00" cy="190.70" rx="9.40" ry="6.20" fill="#b05ab4" opacity="0.8" filter="url(#b1)" transform="rotate(8 370 190.7)"/>
<ellipse cx="370.00" cy="190.70" rx="8.40" ry="5.20" fill="#7a2491" filter="url(#b08)" transform="rotate(8 370 190.7)"/>
<ellipse cx="369.50" cy="190.40" rx="4.84" ry="3.08" fill="#4e1470" opacity="0.5" filter="url(#b1)" transform="rotate(8 370 190.7)"/>
<ellipse cx="323.40" cy="201.60" rx="8.20" ry="6.00" fill="#b05ab4" opacity="0.8" filter="url(#b1)" transform="rotate(-15 323.4 201.6)"/>
<ellipse cx="323.40" cy="201.60" rx="7.20" ry="5.00" fill="#8a2a9c" filter="url(#b08)" transform="rotate(-15 323.4 201.6)"/>
<ellipse cx="322.90" cy="201.30" rx="4.18" ry="2.97" fill="#4e1470" opacity="0.5" filter="url(#b1)" transform="rotate(-15 323.4 201.6)"/>
<ellipse cx="314.60" cy="211.50" rx="6.80" ry="8.00" fill="#b05ab4" opacity="0.8" filter="url(#b1)" transform="rotate(10 314.6 211.5)"/>
<ellipse cx="314.60" cy="211.50" rx="5.80" ry="7.00" fill="#8a2f9e" filter="url(#b08)" transform="rotate(10 314.6 211.5)"/>
<ellipse cx="314.10" cy="211.20" rx="3.41" ry="4.07" fill="#4e1470" opacity="0.5" filter="url(#b1)" transform="rotate(10 314.6 211.5)"/>
<ellipse cx="365.80" cy="219.00" rx="6.80" ry="10.20" fill="#b05ab4" opacity="0.8" filter="url(#b1)" transform="rotate(-12 365.8 219)"/>
<ellipse cx="365.80" cy="219.00" rx="5.80" ry="9.20" fill="#6a1f86" filter="url(#b08)" transform="rotate(-12 365.8 219)"/>
<ellipse cx="365.30" cy="218.70" rx="3.41" ry="5.28" fill="#4e1470" opacity="0.5" filter="url(#b1)" transform="rotate(-12 365.8 219)"/>
<ellipse cx="375.30" cy="231.40" rx="7.90" ry="7.40" fill="#b05ab4" opacity="0.8" filter="url(#b1)" transform="rotate(0 375.3 231.4)"/>
<ellipse cx="375.30" cy="231.40" rx="6.90" ry="6.40" fill="#5f1c80" filter="url(#b08)" transform="rotate(0 375.3 231.4)"/>
<ellipse cx="374.80" cy="231.10" rx="4.02" ry="3.74" fill="#4e1470" opacity="0.5" filter="url(#b1)" transform="rotate(0 375.3 231.4)"/>
</g>
<rect x="303.7" y="179.6" width="79.4" height="61.9" fill="none" stroke="#7a6228" stroke-width="0.9"/>
<path d="M333.6 193.6 L342.4 190.2 L342.4 197 Z" fill="#111"/>
<path d="M359.4 189.4 L350.4 186 L350.4 192.8 Z" fill="#111"/>
<path d="M340.6 204.8 L336.6 211.8 L347 211.8 Z" fill="#111"/>
<rect x="308" y="233.2" width="27.2" height="1.7" fill="#111" stroke="none" stroke-width="1"/>
<text x="343.3" y="253" font-size="7" font-weight="bold" fill="#000" stroke="#000" stroke-width="0.22" text-anchor="middle">GFP + TRAIL</text>
<rect x="391.2" y="179.6" width="79.2" height="61.9" fill="url(#tanB)" stroke="none" stroke-width="1"/>
<g clip-path="url(#cB2)">
<circle cx="417.50" cy="200.80" r="9.80" fill="#7a3a84" filter="url(#b08)"/>
<circle cx="417.50" cy="200.80" r="8.45" fill="#55205f" filter="url(#b08)"/>
<circle cx="417.50" cy="200.80" r="5.95" fill="#40134c" opacity="0.8" filter="url(#b1)"/>
<circle cx="441.70" cy="192.70" r="7.80" fill="#7a3a84" filter="url(#b08)"/>
<circle cx="441.70" cy="192.70" r="6.69" fill="#55205f" filter="url(#b08)"/>
<circle cx="441.70" cy="192.70" r="4.71" fill="#40134c" opacity="0.8" filter="url(#b1)"/>
<circle cx="438.70" cy="210.60" r="10.40" fill="#7a3a84" filter="url(#b08)"/>
<circle cx="438.70" cy="210.60" r="8.98" fill="#55205f" filter="url(#b08)"/>
<circle cx="438.70" cy="210.60" r="6.32" fill="#40134c" opacity="0.8" filter="url(#b1)"/>
<circle cx="408.80" cy="216.20" r="8.40" fill="#7a3a84" filter="url(#b08)"/>
<circle cx="408.80" cy="216.20" r="7.22" fill="#55205f" filter="url(#b08)"/>
<circle cx="408.80" cy="216.20" r="5.08" fill="#40134c" opacity="0.8" filter="url(#b1)"/>
<circle cx="409.80" cy="231.50" r="7.80" fill="#7a3a84" filter="url(#b08)"/>
<circle cx="409.80" cy="231.50" r="6.69" fill="#55205f" filter="url(#b08)"/>
<circle cx="409.80" cy="231.50" r="4.71" fill="#40134c" opacity="0.8" filter="url(#b1)"/>
<circle cx="435.80" cy="235.00" r="8.80" fill="#7a3a84" filter="url(#b08)"/>
<circle cx="435.80" cy="235.00" r="7.57" fill="#55205f" filter="url(#b08)"/>
<circle cx="435.80" cy="235.00" r="5.33" fill="#40134c" opacity="0.8" filter="url(#b1)"/>
</g>
<rect x="391.2" y="179.6" width="79.2" height="61.9" fill="none" stroke="#7a6228" stroke-width="0.9"/>
<text x="431.6" y="253.3" font-size="7" font-weight="bold" fill="#000" stroke="#000" stroke-width="0.22" text-anchor="middle">NPMc + TRAIL</text>
<text x="0.4" y="344" font-size="14" font-weight="bold" fill="#000" stroke="#000" stroke-width="0.22" text-anchor="start">C</text>
<text x="58" y="339.5" font-size="7.1" font-weight="bold" fill="#000" stroke="#000" stroke-width="0.22" text-anchor="middle">GFP</text>
<text x="108" y="339.5" font-size="7.1" font-weight="bold" fill="#000" stroke="#000" stroke-width="0.22" text-anchor="middle">DAPI</text>
<text x="162" y="339.5" font-size="7.1" font-weight="bold" fill="#000" stroke="#000" stroke-width="0.22" text-anchor="middle">Merge</text>
<text x="5.6" y="372.5" font-size="7.1" font-weight="bold" fill="#000" stroke="#000" stroke-width="0.22" text-anchor="start">GFP</text>
<text x="5.6" y="422.7" font-size="7.1" font-weight="bold" fill="#000" stroke="#000" stroke-width="0.22" text-anchor="start">GFP-</text>
<text x="5.6" y="431.5" font-size="7.1" font-weight="bold" fill="#000" stroke="#000" stroke-width="0.22" text-anchor="start">NPMc</text>
<rect x="29.8" y="346.2" width="156" height="103.6" fill="#010101" stroke="none" stroke-width="1"/>
<g clip-path="url(#cC)">
<polygon points="51.08,360.15 56.46,359.08 61.08,359.38 64.92,361.69 67.23,365.54 68.31,371.69 67.69,377.08 66.15,380.92 63.69,384.31 61.08,386.31 57.54,387.54 54.15,387.85 50.77,386.62 48.00,384.77 46.00,380.92 44.92,377.08 44.92,372.46 45.69,368.62 46.77,365.23 48.62,362.15" fill="#1fd622" stroke="#1fd622" stroke-width="1" stroke-linejoin="round" filter="url(#b05)"/>
<circle cx="54.15" cy="367.08" r="3.20" fill="#46f048" opacity="0.55" filter="url(#b08)"/>
<circle cx="61.08" cy="370.15" r="3.00" fill="#46f048" opacity="0.5" filter="url(#b08)"/>
<circle cx="52.62" cy="377.08" r="3.40" fill="#40ee44" opacity="0.5" filter="url(#b08)"/>
<circle cx="59.54" cy="380.15" r="3.00" fill="#46f048" opacity="0.45" filter="url(#b08)"/>
<circle cx="57.23" cy="373.23" r="1.60" fill="#12a416" opacity="0.6" filter="url(#b08)"/>
<circle cx="49.54" cy="371.69" r="1.50" fill="#15b019" opacity="0.5" filter="url(#b08)"/>
<circle cx="63.38" cy="375.54" r="1.50" fill="#15b019" opacity="0.5" filter="url(#b08)"/>
<circle cx="56.46" cy="363.23" r="1.40" fill="#15b019" opacity="0.4" filter="url(#b08)"/>
<circle cx="55.69" cy="383.23" r="1.40" fill="#15b019" opacity="0.4" filter="url(#b08)"/>
<ellipse cx="108.20" cy="373.40" rx="9.60" ry="8.70" fill="#0b16d0" filter="url(#b1)"/>
<ellipse cx="106.50" cy="371.30" rx="6.60" ry="5.20" fill="#1a2af2" opacity="0.75" filter="url(#b1)"/>
<ellipse cx="105.00" cy="377.50" rx="4.00" ry="3.20" fill="#1a2af2" opacity="0.6" filter="url(#b1)"/>
<circle cx="110.40" cy="374.20" r="2.30" fill="#050a88" opacity="0.75" filter="url(#b08)"/>
<polygon points="154.15,359.38 160.31,358.62 167.23,360.15 170.77,364.77 172.31,371.69 171.08,378.62 168.00,384.31 162.62,387.85 156.46,387.08 151.85,383.23 149.23,377.08 148.77,370.92 149.85,364.77" fill="#17b422" stroke="#17b422" stroke-width="1" stroke-linejoin="round" filter="url(#b05)"/>
<ellipse cx="160.40" cy="373.80" rx="8.40" ry="8.70" fill="#25b4e2" filter="url(#b08)"/>
<ellipse cx="158.50" cy="371.50" rx="4.50" ry="3.80" fill="#38c8f4" opacity="0.6" filter="url(#b1)"/>
<circle cx="161.60" cy="374.20" r="2.20" fill="#1a9484" opacity="0.85" filter="url(#b08)"/>
<ellipse cx="57.2" cy="422.4" rx="13.1" ry="13.2" fill="#031404" stroke="#115214" stroke-width="3" filter="url(#b08)"/>
<polygon points="47.23,410.92 53.38,409.38 55.69,412.77 58.77,410.62 64.15,412.15 67.23,417.08 66.77,422.46 68.31,427.08 64.92,432.46 59.54,434.31 56.46,432.15 51.08,433.23 46.46,429.38 44.62,423.23 45.23,417.08" fill="none" stroke="#27962b" stroke-width="0.9" stroke-linejoin="round" opacity="0.75" filter="url(#b08)"/>
<circle cx="70.80" cy="417.40" r="1.00" fill="#3cc040" opacity="0.8" filter="url(#b05)"/>
<path d="M100 415 Q104 410.5 109 412.5 Q114 410.8 118 415 Q121 421 119 428 Q115 434.5 108 433 Q102 435 98.5 429 Q95.5 421 100 415Z" fill="#0b16d0" filter="url(#b1)"/>
<ellipse cx="104.50" cy="421.00" rx="4.60" ry="6.00" fill="#1a2af2" opacity="0.6" filter="url(#b1)"/>
<ellipse cx="113.50" cy="421.50" rx="4.00" ry="5.50" fill="#1a2af2" opacity="0.55" filter="url(#b1)"/>
<ellipse cx="161.5" cy="422.4" rx="13" ry="13.3" fill="#0d3f18" stroke="#175a22" stroke-width="2.4" filter="url(#b08)"/>
<path d="M153 414.5 Q157 411 161.5 413 Q166 411 170 414.5 Q173 421 171.3 427.5 Q167 432.5 161 431 Q155 433 152 428 Q149.5 421 153 414.5Z" fill="#1124dc" stroke="#2a70c8" stroke-width="0.6" filter="url(#b05)"/>
<ellipse cx="157.00" cy="421.00" rx="3.60" ry="5.00" fill="#2436f4" opacity="0.6" filter="url(#b1)"/>
<ellipse cx="166.00" cy="420.50" rx="3.40" ry="4.60" fill="#2436f4" opacity="0.55" filter="url(#b1)"/>
<circle cx="175.00" cy="417.60" r="0.90" fill="#50d060" opacity="0.8" filter="url(#b05)"/>
</g>
<line x1="29.8" y1="398.3" x2="185.8" y2="398.3" stroke="#a8a8a8" stroke-width="0.9"/>
<line x1="81.9" y1="346.2" x2="81.9" y2="449.8" stroke="#272727" stroke-width="0.7"/>
<line x1="133.5" y1="346.2" x2="133.5" y2="449.8" stroke="#272727" stroke-width="0.7"/>
<rect x="158.8" y="445.5" width="21.5" height="2.2" fill="#fff" stroke="none" stroke-width="1"/>
<line x1="33.8" y1="467.1" x2="33.8" y2="587.5" stroke="#a0a0a0" stroke-width="0.7"/>
<line x1="33.8" y1="587.5" x2="182.2" y2="587.5" stroke="#a0a0a0" stroke-width="0.7"/>
<line x1="32.3" y1="587.5" x2="33.8" y2="587.5" stroke="#a0a0a0" stroke-width="0.6"/>
<text x="28.4" y="590.1" font-size="7.1" font-weight="normal" fill="#222" stroke="#222" stroke-width="0.22" text-anchor="end">20</text>
<line x1="32.3" y1="570.3" x2="33.8" y2="570.3" stroke="#a0a0a0" stroke-width="0.6"/>
<text x="28.4" y="572.9" font-size="7.1" font-weight="normal" fill="#222" stroke="#222" stroke-width="0.22" text-anchor="end">30</text>
<line x1="32.3" y1="553.1" x2="33.8" y2="553.1" stroke="#a0a0a0" stroke-width="0.6"/>
<text x="28.4" y="555.7" font-size="7.1" font-weight="normal" fill="#222" stroke="#222" stroke-width="0.22" text-anchor="end">40</text>
<line x1="32.3" y1="535.9" x2="33.8" y2="535.9" stroke="#a0a0a0" stroke-width="0.6"/>
<text x="28.4" y="538.5" font-size="7.1" font-weight="normal" fill="#222" stroke="#222" stroke-width="0.22" text-anchor="end">50</text>
<line x1="32.3" y1="518.7" x2="33.8" y2="518.7" stroke="#a0a0a0" stroke-width="0.6"/>
<text x="28.4" y="521.3000000000001" font-size="7.1" font-weight="normal" fill="#222" stroke="#222" stroke-width="0.22" text-anchor="end">60</text>
<line x1="32.3" y1="501.5" x2="33.8" y2="501.5" stroke="#a0a0a0" stroke-width="0.6"/>
<text x="28.4" y="504.1" font-size="7.1" font-weight="normal" fill="#222" stroke="#222" stroke-width="0.22" text-anchor="end">70</text>
<line x1="32.3" y1="484.3" x2="33.8" y2="484.3" stroke="#a0a0a0" stroke-width="0.6"/>
<text x="28.4" y="486.90000000000003" font-size="7.1" font-weight="normal" fill="#222" stroke="#222" stroke-width="0.22" text-anchor="end">80</text>
<line x1="32.3" y1="467.1" x2="33.8" y2="467.1" stroke="#a0a0a0" stroke-width="0.6"/>
<text x="28.4" y="469.70000000000005" font-size="7.1" font-weight="normal" fill="#222" stroke="#222" stroke-width="0.22" text-anchor="end">90</text>
<line x1="33.8" y1="587.5" x2="33.8" y2="589.1" stroke="#a0a0a0" stroke-width="0.6"/>
<line x1="108" y1="587.5" x2="108" y2="589.1" stroke="#a0a0a0" stroke-width="0.6"/>
<line x1="182.2" y1="587.5" x2="182.2" y2="589.1" stroke="#a0a0a0" stroke-width="0.6"/>
<text x="12.9" y="527" font-size="7.0" font-weight="bold" fill="#111" stroke="#111" stroke-width="0.22" text-anchor="middle" transform="rotate(-90 12.9 527)">% cells with condensed nuclei</text>
<text x="102.9" y="472.4" font-size="8.1" font-weight="bold" fill="#000" stroke="#000" stroke-width="0.22" text-anchor="middle">CB CD34+</text>
<text x="33.8" y="600" font-size="6.9" font-weight="normal" fill="#222" stroke="#222" stroke-width="0.22" text-anchor="middle">0 hr</text>
<text x="108" y="600" font-size="6.9" font-weight="normal" fill="#222" stroke="#222" stroke-width="0.22" text-anchor="middle">24 hr</text>
<text x="182.2" y="600" font-size="6.9" font-weight="normal" fill="#222" stroke="#222" stroke-width="0.22" text-anchor="middle">48 hr</text>
<text x="108.2" y="608.8" font-size="6.8" font-weight="bold" fill="#111" stroke="#111" stroke-width="0.22" text-anchor="middle">Hours following Ara-C exposure</text>
<polyline fill="none" stroke="#1f70b8" stroke-width="1.9" points="33.8,574.3 108,525.2 182.2,485.4"/>
<polyline fill="none" stroke="#ee1c25" stroke-width="2" points="33.8,576.8 108,547.8 182.2,526.3"/>
<line x1="182.2" y1="483.4" x2="182.2" y2="487.4" stroke="#1f70b8" stroke-width="0.8"/>
<line x1="180.79999999999998" y1="483.4" x2="183.6" y2="483.4" stroke="#1f70b8" stroke-width="0.8"/>
<line x1="180.79999999999998" y1="487.4" x2="183.6" y2="487.4" stroke="#1f70b8" stroke-width="0.8"/>
<line x1="182.2" y1="523.8" x2="182.2" y2="528.8" stroke="#ee1c25" stroke-width="0.8"/>
<line x1="180.79999999999998" y1="523.8" x2="183.6" y2="523.8" stroke="#ee1c25" stroke-width="0.8"/>
<line x1="180.79999999999998" y1="528.8" x2="183.6" y2="528.8" stroke="#ee1c25" stroke-width="0.8"/>
<path d="M33.8 571.9 L36.199999999999996 574.3 L33.8 576.6999999999999 L31.4 574.3 Z" fill="#1f70b8"/>
<path d="M108 522.8000000000001 L110.4 525.2 L108 527.6 L105.6 525.2 Z" fill="#1f70b8"/>
<path d="M182.2 483.0 L184.6 485.4 L182.2 487.79999999999995 L179.79999999999998 485.4 Z" fill="#1f70b8"/>
<rect x="31.499999999999996" y="574.5" width="4.6" height="4.6" fill="#ee1c25" stroke="none" stroke-width="1" rx="0.8"/>
<rect x="105.7" y="545.5" width="4.6" height="4.6" fill="#ee1c25" stroke="none" stroke-width="1" rx="0.8"/>
<rect x="179.89999999999998" y="524.0" width="4.6" height="4.6" fill="#ee1c25" stroke="none" stroke-width="1" rx="0.8"/>
<text x="107.6" y="520.8" font-size="8.5" font-weight="bold" fill="#000" stroke="#000" stroke-width="0.22" text-anchor="middle">**</text>
<text x="182.2" y="480.4" font-size="8.5" font-weight="bold" fill="#000" stroke="#000" stroke-width="0.22" text-anchor="middle">**</text>
<line x1="40" y1="477.8" x2="53.8" y2="477.8" stroke="#1f70b8" stroke-width="1.5"/>
<path d="M46.9 476.1 L48.6 477.8 L46.9 479.5 L45.2 477.8 Z" fill="#1f70b8"/>
<text x="55" y="480.3" font-size="6.9" font-weight="normal" fill="#222" stroke="#222" stroke-width="0.22" text-anchor="start">GFP</text>
<line x1="40" y1="490" x2="53.8" y2="490" stroke="#ee1c25" stroke-width="1.6"/>
<rect x="45.1" y="488.2" width="3.6" height="3.6" fill="#ee1c25" stroke="none" stroke-width="1"/>
<text x="55" y="492.5" font-size="6.9" font-weight="normal" fill="#222" stroke="#222" stroke-width="0.22" text-anchor="start">NPMc</text>
<text x="45.5" y="631.2" font-size="6.8" font-weight="bold" fill="#000" stroke="#000" stroke-width="0.22" text-anchor="middle">GFP</text>
<text x="147.6" y="631.2" font-size="6.8" font-weight="bold" fill="#000" stroke="#000" stroke-width="0.22" text-anchor="middle">NPMc</text>
<rect x="3.2" y="633.2" width="90.5" height="1.6" fill="#111" stroke="none" stroke-width="1"/>
<rect x="103" y="633.2" width="91.4" height="1.6" fill="#111" stroke="none" stroke-width="1"/>
<clipPath id="r1"><rect x="1" y="636.8" width="45.2" height="40.3"/></clipPath>
<rect x="1" y="636.8" width="45.2" height="40.3" fill="#070740" stroke="none" stroke-width="1"/>
<g clip-path="url(#r1)">
<ellipse cx="23.60" cy="656.95" rx="20.34" ry="16.93" fill="#0a0a55" opacity="0.7" filter="url(#b3)"/>
<ellipse cx="14.39" cy="662.60" rx="3.40" ry="4.00" fill="#2a2af0" opacity="0.75" filter="url(#b1)"/>
<ellipse cx="37.66" cy="651.39" rx="2.60" ry="3.20" fill="#2a2af0" opacity="0.9" filter="url(#b1)"/>
<ellipse cx="33.85" cy="657.94" rx="2.80" ry="2.40" fill="#2a2af0" opacity="0.9" filter="url(#b1)"/>
</g>
<line x1="35.7" y1="673.0999999999999" x2="41.7" y2="673.0999999999999" stroke="#c8c8d8" stroke-width="0.9"/>
<clipPath id="r2"><rect x="50.8" y="636.8" width="45.5" height="40.3"/></clipPath>
<rect x="50.8" y="636.8" width="45.5" height="40.3" fill="#070740" stroke="none" stroke-width="1"/>
<g clip-path="url(#r2)">
<ellipse cx="73.55" cy="656.95" rx="20.48" ry="16.93" fill="#0a0a55" opacity="0.7" filter="url(#b3)"/>
<ellipse cx="61.35" cy="647.79" rx="2.00" ry="2.00" fill="#2a2af0" opacity="0.8" filter="url(#b1)"/>
<ellipse cx="82.50" cy="647.79" rx="2.60" ry="2.40" fill="#2a2af0" opacity="0.7" filter="url(#b1)"/>
<ellipse cx="70.87" cy="656.25" rx="2.60" ry="2.40" fill="#2a2af0" opacity="0.95" filter="url(#b1)"/>
<ellipse cx="74.47" cy="655.62" rx="2.20" ry="2.20" fill="#2a2af0" opacity="0.95" filter="url(#b1)"/>
<ellipse cx="87.16" cy="665.77" rx="2.00" ry="2.60" fill="#2a2af0" opacity="0.9" filter="url(#b1)"/>
<path d="M0 0 L-3.3 -1.6 L-3.3 1.6 Z" fill="#fff" transform="translate(57.5 649.9) rotate(-45)"/>
<path d="M0 0 L-3.3 -1.6 L-3.3 1.6 Z" fill="#fff" transform="translate(80.0 649.9) rotate(-45)"/>
<path d="M0 0 L-3.3 -1.6 L-3.3 1.6 Z" fill="#fff" transform="translate(82.9 667.9) rotate(-45)"/>
</g>
<line x1="85.8" y1="673.0999999999999" x2="91.8" y2="673.0999999999999" stroke="#c8c8d8" stroke-width="0.9"/>
<clipPath id="r3"><rect x="101" y="636.8" width="44.8" height="40.3"/></clipPath>
<rect x="101" y="636.8" width="44.8" height="40.3" fill="#070740" stroke="none" stroke-width="1"/>
<g clip-path="url(#r3)">
<ellipse cx="123.40" cy="656.95" rx="20.16" ry="16.93" fill="#0a0a55" opacity="0.7" filter="url(#b3)"/>
<ellipse cx="128.85" cy="642.08" rx="3.30" ry="3.60" fill="#2a2af0" opacity="0.6" filter="url(#b1)"/>
<ellipse cx="124.62" cy="648.85" rx="2.60" ry="3.60" fill="#2a2af0" opacity="0.55" filter="url(#b1)"/>
<ellipse cx="117.21" cy="664.71" rx="2.60" ry="4.50" fill="#2a2af0" opacity="0.6" filter="url(#b1)"/>
<ellipse cx="140.48" cy="663.23" rx="3.00" ry="3.60" fill="#2a2af0" opacity="0.55" filter="url(#b1)"/>
<ellipse cx="132.02" cy="671.70" rx="3.00" ry="3.00" fill="#2a2af0" opacity="0.5" filter="url(#b1)"/>
<ellipse cx="138.37" cy="670.43" rx="2.60" ry="3.00" fill="#2a2af0" opacity="0.45" filter="url(#b1)"/>
</g>
<line x1="105" y1="673.6999999999999" x2="112.5" y2="673.6999999999999" stroke="#c8c8d8" stroke-width="0.9"/>
<clipPath id="r4"><rect x="150.4" y="636.8" width="45.1" height="40.3"/></clipPath>
<rect x="150.4" y="636.8" width="45.1" height="40.3" fill="#070740" stroke="none" stroke-width="1"/>
<g clip-path="url(#r4)">
<ellipse cx="172.95" cy="656.95" rx="20.30" ry="16.93" fill="#0a0a55" opacity="0.7" filter="url(#b3)"/>
<ellipse cx="167.98" cy="642.08" rx="2.80" ry="2.40" fill="#2a2af0" opacity="1" filter="url(#b1)"/>
<ellipse cx="180.68" cy="647.16" rx="3.60" ry="2.60" fill="#2a2af0" opacity="0.65" filter="url(#b1)"/>
<ellipse cx="170.10" cy="665.77" rx="2.60" ry="3.20" fill="#2a2af0" opacity="0.8" filter="url(#b1)"/>
<path d="M0 0 L-3.3 -1.6 L-3.3 1.6 Z" fill="#fff" transform="translate(164.8 646.7) rotate(-45)"/>
</g>
<line x1="185.0" y1="673.0999999999999" x2="191.0" y2="673.0999999999999" stroke="#c8c8d8" stroke-width="0.9"/>
<text x="21.8" y="687.7" font-size="6.8" font-weight="bold" fill="#000" stroke="#000" stroke-width="0.22" text-anchor="middle">- Ara-C</text>
<text x="73" y="687.7" font-size="6.8" font-weight="bold" fill="#000" stroke="#000" stroke-width="0.22" text-anchor="middle">+ Ara-C</text>
<text x="123.6" y="687.7" font-size="6.8" font-weight="bold" fill="#000" stroke="#000" stroke-width="0.22" text-anchor="middle">- Ara-C</text>
<text x="173" y="687.7" font-size="6.8" font-weight="bold" fill="#000" stroke="#000" stroke-width="0.22" text-anchor="middle">+ Ara-C</text>
<text x="0.6" y="713.2" font-size="13.6" font-weight="bold" fill="#000" stroke="#000" stroke-width="0.22" text-anchor="start">E</text>
<text x="101" y="709.2" font-size="6.9" font-weight="bold" fill="#000" stroke="#000" stroke-width="0.22" text-anchor="middle">20% input</text>
<text x="133.6" y="709.2" font-size="6.9" font-weight="bold" fill="#000" stroke="#000" stroke-width="0.22" text-anchor="middle">GST</text>
<text x="171" y="709.2" font-size="6.9" font-weight="bold" fill="#000" stroke="#000" stroke-width="0.22" text-anchor="middle">GST-NPMc</text>
<text x="10" y="728.3" font-size="6.9" font-weight="bold" fill="#000" stroke="#000" stroke-width="0.22" text-anchor="start">Cleaved caspase-8</text>
<text x="10" y="753" font-size="6.9" font-weight="bold" fill="#000" stroke="#000" stroke-width="0.22" text-anchor="start">Cleaved caspase-6</text>
<rect x="79.3" y="716.5" width="109.4" height="17.7" fill="#a8a8a8" stroke="none" stroke-width="1"/>
<g clip-path="url(#cE1)">
<rect x="79.3" y="716.5" width="44" height="17.7" fill="#8e8e8e" stroke="none" stroke-width="1" filter="url(#b3)"/>
<rect x="150" y="716.5" width="40" height="17.7" fill="#b0b0b0" stroke="none" stroke-width="1" opacity="0.6" filter="url(#b3)"/>
<path d="M84.5 723.2 Q86 721.2 92 721.4 Q103 721.6 113.5 722.6 Q115.2 724.4 113.2 726.4 Q102 727.8 91 727.4 Q85.5 727 84.5 725.4 Z" fill="#080808" filter="url(#b08)"/>
<ellipse cx="92.00" cy="724.40" rx="6.50" ry="2.60" fill="#000" filter="url(#b05)"/>
<ellipse cx="167.50" cy="727.00" rx="10.00" ry="2.30" fill="#707070" opacity="0.7" filter="url(#b15)"/>
<ellipse cx="173.50" cy="727.20" rx="4.00" ry="1.80" fill="#505050" opacity="0.6" filter="url(#b1)"/>
<circle cx="126.60" cy="732.00" r="0.90" fill="#1a1a1a"/>
<circle cx="101.80" cy="717.40" r="0.80" fill="#1a1a1a"/>
</g>
<rect x="79.3" y="716.5" width="109.4" height="17.7" fill="none" stroke="#333" stroke-width="0.9"/>
<rect x="79.3" y="739.3" width="109.4" height="21.4" fill="#a9a9a9" stroke="none" stroke-width="1"/>
<g clip-path="url(#cE2)">
<rect x="79.3" y="739.3" width="40" height="21.4" fill="#8f8f8f" stroke="none" stroke-width="1" filter="url(#b3)"/>
<rect x="150" y="739.3" width="40" height="21.4" fill="#b0b0b0" stroke="none" stroke-width="1" opacity="0.5" filter="url(#b3)"/>
<path d="M84 749.4 Q92 748.2 101 750.2 L109.6 752.2 Q110.4 753.8 109 754.6 Q97 754.6 85 752.6 Q83.4 751 84 749.4Z" fill="#0a0a0a" filter="url(#b08)"/>
<ellipse cx="168.80" cy="755.20" rx="8.60" ry="3.10" fill="#7c7c7c" opacity="0.75" filter="url(#b15)"/>
</g>
<rect x="79.3" y="739.3" width="109.4" height="21.4" fill="none" stroke="#333" stroke-width="0.9"/>
<text x="211.2" y="294.8" font-size="13.6" font-weight="bold" fill="#000" stroke="#000" stroke-width="0.22" text-anchor="start">D</text>
<text x="310" y="290" font-size="6.9" font-weight="bold" fill="#000" stroke="#000" stroke-width="0.22" text-anchor="middle">Untransduced</text>
<text x="385.8" y="290" font-size="6.9" font-weight="bold" fill="#000" stroke="#000" stroke-width="0.22" text-anchor="middle">GFP</text>
<text x="468.8" y="290" font-size="6.9" font-weight="bold" fill="#000" stroke="#000" stroke-width="0.22" text-anchor="middle">GFP-NPMc</text>
<path d="M272.40000000000003 356.2 L272.30 355.57 L272.80 355.15 L273.30 354.42 L273.80 354.30 L274.30 352.71 L274.80 351.43 L275.30 349.10 L275.80 346.47 L276.30 342.60 L276.80 339.81 L277.30 334.91 L277.80 327.91 L278.30 320.47 L278.80 315.70 L279.30 309.97 L279.80 303.67 L280.30 300.15 L280.80 296.31 L281.30 294.11 L281.80 294.64 L282.30 297.45 L282.80 301.53 L283.30 306.06 L283.80 313.03 L284.30 319.38 L284.80 328.31 L285.30 333.48 L285.80 338.35 L286.30 343.43 L286.80 347.13 L287.30 349.16 L287.80 352.01 L288.30 352.99 L288.80 353.64 L289.30 354.51 L289.80 354.62 L290.30 355.33 L290.80 354.84 L291.30 355.30 L291.80 354.83 L292.30 355.04 L292.80 354.99 L293.30 355.22 L293.80 355.52 L294.30 354.86 L294.80 355.41 L295.30 355.68 L295.80 355.64 L296.30 355.51 L296.80 355.35 L297.30 355.99 L297.80 355.17 L298.30 355.35 L298.80 355.44 L299.30 355.67 L299.80 355.59 L300.30 355.82 L300.80 355.62 L301.30 355.43 L301.80 355.60 L302.30 355.80 L302.80 355.37 L303.30 355.69 L303.80 355.72 L304.30 355.63 L304.80 355.18 L305.30 355.45 L305.80 355.35 L306.30 355.91 L306.80 355.40 L307.30 355.75 L307.80 355.46 L308.30 355.89 L308.80 356.18 L309.30 356.16 L309.80 355.47 L310.30 356.06 L310.80 355.44 L311.30 355.82 L311.80 355.95 L312.30 355.70 L312.80 356.06 L313.30 355.71 L313.80 355.83 L314.30 355.51 L314.80 356.18 L315.30 355.94 L315.80 356.01 L316.30 356.14 L316.80 355.98 L317.30 356.11 L317.80 356.03 L318.30 355.96 L318.80 356.03 L319.30 356.15 L319.80 356.14 L320.30 356.04 L320.80 356.11 L321.30 356.12 L321.80 356.04 L322.30 355.99 L322.80 356.07 L323.30 356.19 L323.80 355.97 L324.30 356.00 L324.80 356.04 L325.30 356.10 L325.80 356.15 L326.30 356.13 L326.80 356.05 L327.30 356.09 L327.80 355.99 L328.30 356.20 L328.80 356.18 L329.30 355.99 L329.80 356.14 L330.30 356.10 L330.80 356.16 L331.30 356.02 L331.80 355.98 L332.30 355.94 L332.80 356.13 L333.30 356.09 L333.80 356.05 L334.30 356.20 L334.80 356.13 L335.30 356.09 L335.80 356.18 L336.30 355.94 L336.80 356.17 L337.30 356.04 L337.80 356.06 L338.30 356.04 L338.80 356.07 L339.30 356.14 L339.80 356.13 L340.30 356.09 L340.80 356.03 L341.30 356.11 L341.3 356.2 Z" fill="#0fee12"/>
<line x1="271.8" y1="293.8" x2="271.8" y2="356.59999999999997" stroke="#6a6a6a" stroke-width="0.8"/>
<line x1="271.8" y1="356.59999999999997" x2="341.3" y2="356.59999999999997" stroke="#9a9a9a" stroke-width="0.6"/>
<line x1="293.8" y1="357.5" x2="341.3" y2="357.5" stroke="#8a8a8a" stroke-width="0.7" stroke-dasharray="0.5 0.9 0.5 0.6 0.5 0.4 0.5 0.3 2.2 1.4"/>
<line x1="290.8" y1="321.2" x2="341.2" y2="321.2" stroke="#555" stroke-width="0.7"/>
<line x1="290.8" y1="319.2" x2="290.8" y2="323.2" stroke="#555" stroke-width="0.7"/>
<line x1="341.2" y1="319.2" x2="341.2" y2="323.2" stroke="#555" stroke-width="0.7"/>
<text x="316.0" y="319.9" font-size="3" font-weight="normal" fill="#333" text-anchor="middle">GFP</text>
<text x="305.8" y="361.6" font-size="3" font-weight="normal" fill="#333" text-anchor="middle">FITC-A</text>
<path d="M351.40000000000003 356.2 L351.30 356.15 L351.80 356.12 L352.30 356.06 L352.80 355.46 L353.30 355.53 L353.80 355.04 L354.30 354.83 L354.80 353.99 L355.30 352.45 L355.80 351.05 L356.30 349.50 L356.80 347.45 L357.30 343.56 L357.80 339.65 L358.30 334.60 L358.80 327.63 L359.30 322.47 L359.80 316.00 L360.30 310.79 L360.80 305.72 L361.30 300.01 L361.80 297.02 L362.30 294.09 L362.80 293.80 L363.30 295.75 L363.80 299.20 L364.30 299.48 L364.80 302.31 L365.30 305.24 L365.80 307.60 L366.30 311.04 L366.80 313.99 L367.30 318.36 L367.80 319.45 L368.30 322.41 L368.80 327.42 L369.30 328.38 L369.80 330.90 L370.30 333.72 L370.80 335.56 L371.30 337.45 L371.80 338.21 L372.30 340.46 L372.80 341.16 L373.30 343.07 L373.80 343.24 L374.30 343.82 L374.80 344.76 L375.30 345.51 L375.80 346.82 L376.30 346.89 L376.80 347.09 L377.30 347.51 L377.80 347.63 L378.30 348.55 L378.80 348.71 L379.30 349.56 L379.80 349.23 L380.30 349.95 L380.80 349.65 L381.30 350.18 L381.80 350.62 L382.30 350.77 L382.80 350.89 L383.30 351.38 L383.80 351.28 L384.30 351.44 L384.80 351.59 L385.30 352.19 L385.80 352.07 L386.30 352.08 L386.80 352.38 L387.30 352.81 L387.80 352.64 L388.30 352.70 L388.80 353.16 L389.30 353.41 L389.80 353.15 L390.30 353.57 L390.80 353.71 L391.30 353.69 L391.80 353.68 L392.30 353.73 L392.80 354.01 L393.30 354.02 L393.80 354.18 L394.30 354.13 L394.80 354.11 L395.30 354.19 L395.80 354.21 L396.30 354.31 L396.80 354.35 L397.30 354.44 L397.80 354.55 L398.30 354.66 L398.80 354.61 L399.30 354.73 L399.80 354.82 L400.30 354.79 L400.80 354.75 L401.30 354.93 L401.80 354.89 L402.30 354.96 L402.80 354.97 L403.30 355.07 L403.80 354.97 L404.30 355.11 L404.80 355.09 L405.30 355.15 L405.80 355.23 L406.30 355.18 L406.80 355.27 L407.30 355.30 L407.80 355.33 L408.30 355.33 L408.80 355.36 L409.30 355.32 L409.80 355.36 L410.30 355.32 L410.80 355.35 L411.30 355.36 L411.80 355.46 L412.30 355.46 L412.80 355.50 L413.30 355.48 L413.80 355.49 L414.30 355.49 L414.80 355.52 L415.30 355.57 L415.80 355.57 L416.30 355.58 L416.80 355.64 L417.30 355.65 L417.80 355.63 L418.30 355.66 L418.80 355.63 L419.30 355.68 L419.80 355.70 L420.30 355.70 L420.3 356.2 Z" fill="#0fee12"/>
<line x1="350.8" y1="293.8" x2="350.8" y2="356.59999999999997" stroke="#6a6a6a" stroke-width="0.8"/>
<line x1="350.8" y1="356.59999999999997" x2="420.3" y2="356.59999999999997" stroke="#9a9a9a" stroke-width="0.6"/>
<line x1="372.8" y1="357.5" x2="420.3" y2="357.5" stroke="#8a8a8a" stroke-width="0.7" stroke-dasharray="0.5 0.9 0.5 0.6 0.5 0.4 0.5 0.3 2.2 1.4"/>
<line x1="369.5" y1="321.2" x2="420" y2="321.2" stroke="#555" stroke-width="0.7"/>
<line x1="369.5" y1="319.2" x2="369.5" y2="323.2" stroke="#555" stroke-width="0.7"/>
<line x1="420" y1="319.2" x2="420" y2="323.2" stroke="#555" stroke-width="0.7"/>
<text x="394.75" y="319.9" font-size="3" font-weight="normal" fill="#333" text-anchor="middle">GFP</text>
<text x="384.8" y="361.6" font-size="3" font-weight="normal" fill="#333" text-anchor="middle">FITC-A</text>
<path d="M429.90000000000003 356.2 L429.80 356.18 L430.30 356.17 L430.80 356.14 L431.30 356.08 L431.80 355.98 L432.30 355.62 L432.80 354.92 L433.30 354.54 L433.80 353.95 L434.30 353.02 L434.80 351.21 L435.30 349.00 L435.80 346.82 L436.30 342.98 L436.80 338.99 L437.30 334.36 L437.80 326.18 L438.30 320.73 L438.80 313.30 L439.30 306.43 L439.80 301.35 L440.30 296.40 L440.80 295.05 L441.30 293.80 L441.80 294.95 L442.30 295.29 L442.80 297.75 L443.30 302.94 L443.80 306.27 L444.30 309.82 L444.80 311.53 L445.30 317.36 L445.80 321.00 L446.30 326.07 L446.80 329.46 L447.30 333.47 L447.80 336.94 L448.30 339.54 L448.80 342.30 L449.30 343.84 L449.80 345.83 L450.30 347.69 L450.80 349.75 L451.30 350.31 L451.80 351.65 L452.30 352.49 L452.80 353.27 L453.30 353.54 L453.80 354.12 L454.30 354.26 L454.80 354.68 L455.30 354.37 L455.80 354.78 L456.30 354.81 L456.80 354.75 L457.30 354.97 L457.80 355.15 L458.30 355.11 L458.80 355.40 L459.30 355.14 L459.80 355.55 L460.30 355.35 L460.80 355.00 L461.30 355.35 L461.80 355.25 L462.30 355.31 L462.80 355.09 L463.30 355.44 L463.80 355.56 L464.30 355.14 L464.80 355.41 L465.30 355.54 L465.80 355.77 L466.30 355.40 L466.80 355.45 L467.30 355.83 L467.80 355.83 L468.30 355.86 L468.80 355.85 L469.30 355.86 L469.80 355.90 L470.30 355.91 L470.80 355.89 L471.30 355.89 L471.80 355.92 L472.30 355.92 L472.80 355.93 L473.30 355.94 L473.80 355.95 L474.30 355.96 L474.80 355.96 L475.30 355.96 L475.80 355.98 L476.30 355.98 L476.80 355.98 L477.30 356.00 L477.80 355.99 L478.30 355.99 L478.80 356.01 L479.30 356.02 L479.80 356.01 L480.30 356.03 L480.80 356.03 L481.30 356.03 L481.80 356.03 L482.30 356.05 L482.80 356.05 L483.30 356.05 L483.80 356.04 L484.30 356.05 L484.80 356.05 L485.30 356.07 L485.80 356.07 L486.30 356.06 L486.80 356.06 L487.30 356.08 L487.80 356.08 L488.30 356.09 L488.80 356.08 L489.30 356.09 L489.80 356.08 L490.30 356.09 L490.80 356.10 L491.30 356.10 L491.80 356.10 L492.30 356.10 L492.80 356.10 L493.30 356.11 L493.80 356.11 L494.30 356.11 L494.80 356.11 L495.30 356.12 L495.80 356.12 L496.30 356.12 L496.80 356.12 L497.30 356.12 L497.80 356.12 L498.30 356.13 L498.80 356.13 L498.8 356.2 Z" fill="#0fee12"/>
<line x1="429.3" y1="293.8" x2="429.3" y2="356.59999999999997" stroke="#6a6a6a" stroke-width="0.8"/>
<line x1="429.3" y1="356.59999999999997" x2="498.8" y2="356.59999999999997" stroke="#9a9a9a" stroke-width="0.6"/>
<line x1="451.3" y1="357.5" x2="498.8" y2="357.5" stroke="#8a8a8a" stroke-width="0.7" stroke-dasharray="0.5 0.9 0.5 0.6 0.5 0.4 0.5 0.3 2.2 1.4"/>
<line x1="448.5" y1="321.2" x2="499.7" y2="321.2" stroke="#555" stroke-width="0.7"/>
<line x1="448.5" y1="319.2" x2="448.5" y2="323.2" stroke="#555" stroke-width="0.7"/>
<line x1="499.7" y1="319.2" x2="499.7" y2="323.2" stroke="#555" stroke-width="0.7"/>
<text x="474.1" y="319.9" font-size="3" font-weight="normal" fill="#333" text-anchor="middle">GFP</text>
<text x="463.3" y="361.6" font-size="3" font-weight="normal" fill="#333" text-anchor="middle">FITC-A</text>
<text x="221.2" y="372.5" font-size="6.9" font-weight="bold" fill="#000" stroke="#000" stroke-width="0.22" text-anchor="start">CD11b</text>
<text x="221.2" y="480.5" font-size="6.9" font-weight="bold" fill="#000" stroke="#000" stroke-width="0.22" text-anchor="start">CD14</text>
<text x="221.2" y="401.2" font-size="6.9" font-weight="normal" fill="#4a90cc" stroke="#4a90cc" stroke-width="0.22" text-anchor="start">GFP</text>
<text x="221.2" y="447.5" font-size="6.9" font-weight="normal" fill="#e03a32" stroke="#e03a32" stroke-width="0.22" text-anchor="start">NPMc</text>
<text x="221.2" y="509.2" font-size="6.9" font-weight="normal" fill="#4a90cc" stroke="#4a90cc" stroke-width="0.22" text-anchor="start">GFP</text>
<text x="221.2" y="555" font-size="6.9" font-weight="normal" fill="#e03a32" stroke="#e03a32" stroke-width="0.22" text-anchor="start">NPMc</text>
<path d="M248.40 414.41 L249.06 413.09 L249.72 411.61 L250.38 410.60 L251.04 409.40 L251.71 408.87 L252.37 406.78 L253.03 406.20 L253.69 406.34 L254.35 403.78 L255.01 403.96 L255.67 398.69 L256.33 396.74 L256.99 398.08 L257.66 396.43 L258.32 391.33 L258.98 393.19 L259.64 391.22 L260.30 388.77 L260.96 384.44 L261.62 377.91 L262.28 378.78 L262.94 390.84 L263.61 389.26 L264.27 395.98 L264.93 397.94 L265.59 401.92 L266.25 407.19 L266.91 408.87 L267.57 412.61 L268.23 415.28 L268.89 417.12 L269.56 419.14 L270.22 418.81 L270.88 419.25 L271.54 419.04 L272.20 419.34 L272.86 419.33 L273.52 419.27 L274.18 419.61 L274.84 419.49 L275.51 419.31 L276.17 419.55 L276.83 419.36 L277.49 419.47 L278.15 419.35 L278.81 419.44 L279.47 419.57 L280.13 419.53 L280.79 419.48 L281.46 419.79 L282.12 419.46 L282.78 419.86 L283.44 419.76 L284.10 419.52 L284.76 419.44 L285.42 419.69 L286.08 419.83 L286.74 419.58 L287.41 419.77 L288.07 419.32 L288.73 419.46 L289.39 419.49 L290.05 419.56 L290.71 419.80 L291.37 419.36 L292.03 419.78 L292.69 419.84 L293.36 419.51 L294.02 419.86 L294.68 419.65 L295.34 419.61 L296.00 419.62" fill="none" stroke="#a2a6b8" stroke-width="0.9" opacity="0.8" stroke-linejoin="round"/>
<path d="M248.40 413.24 L249.06 411.76 L249.72 411.06 L250.38 410.12 L251.04 408.88 L251.71 407.29 L252.37 404.85 L253.03 404.19 L253.69 401.64 L254.35 401.77 L255.01 400.67 L255.67 397.27 L256.33 397.59 L256.99 391.80 L257.66 392.66 L258.32 391.11 L258.98 388.72 L259.64 385.86 L260.30 377.46 L260.96 376.00 L261.62 378.25 L262.28 386.14 L262.94 391.86 L263.61 395.15 L264.27 397.70 L264.93 399.99 L265.59 403.55 L266.25 406.44 L266.91 409.81 L267.57 413.42 L268.23 415.88 L268.89 418.98 L269.56 419.26 L270.22 419.22 L270.88 419.44 L271.54 419.60 L272.20 419.24 L272.86 419.62 L273.52 419.49 L274.18 419.70 L274.84 419.48 L275.51 419.45 L276.17 419.77 L276.83 419.50 L277.49 419.69 L278.15 419.52 L278.81 419.64 L279.47 419.45 L280.13 419.83 L280.79 419.62 L281.46 419.80 L282.12 419.84 L282.78 419.84 L283.44 419.30 L284.10 419.43 L284.76 419.79 L285.42 419.45 L286.08 419.35 L286.74 419.39 L287.41 419.83 L288.07 419.42 L288.73 419.73 L289.39 419.42 L290.05 419.88 L290.71 419.59 L291.37 419.82 L292.03 419.87 L292.69 419.59 L293.36 419.87 L294.02 419.38 L294.68 419.88 L295.34 419.31 L296.00 419.48" fill="none" stroke="#8494d2" stroke-width="1.0" opacity="0.9" stroke-linejoin="round"/>
<line x1="248" y1="376" x2="248" y2="420.6" stroke="#8a8a8a" stroke-width="0.7"/>
<line x1="248" y1="420.6" x2="296" y2="420.6" stroke="#8a8a8a" stroke-width="0.7"/>
<text x="287.5" y="423.0" font-size="2" font-weight="normal" fill="#444" text-anchor="middle">PE-A</text>
<text x="279.2" y="383.2" font-size="6.9" font-weight="normal" fill="#4a90cc" stroke="#4a90cc" stroke-width="0.22" text-anchor="start">0.03</text>
<path d="M301.70 419.63 L302.36 419.14 L303.02 419.27 L303.68 419.50 L304.34 419.15 L305.01 418.91 L305.67 419.31 L306.33 418.84 L306.99 417.98 L307.65 415.73 L308.31 413.84 L308.97 411.89 L309.63 409.19 L310.29 407.13 L310.96 405.39 L311.62 400.03 L312.28 397.68 L312.94 394.64 L313.60 389.74 L314.26 389.94 L314.92 386.51 L315.58 382.10 L316.24 382.89 L316.91 384.97 L317.57 394.63 L318.23 394.90 L318.89 398.03 L319.55 402.16 L320.21 406.20 L320.87 407.06 L321.53 411.31 L322.19 413.07 L322.86 416.04 L323.52 418.40 L324.18 418.23 L324.84 418.49 L325.50 418.59 L326.16 418.50 L326.82 418.63 L327.48 418.79 L328.14 419.30 L328.81 419.20 L329.47 418.86 L330.13 419.38 L330.79 419.03 L331.45 419.05 L332.11 419.50 L332.77 419.15 L333.43 419.36 L334.09 419.57 L334.76 419.13 L335.42 419.67 L336.08 419.30 L336.74 419.71 L337.40 419.26 L338.06 419.20 L338.72 419.66 L339.38 419.20 L340.04 419.60 L340.71 419.41 L341.37 419.80 L342.03 419.30 L342.69 419.48 L343.35 419.69 L344.01 419.44 L344.67 419.52 L345.33 419.28 L345.99 419.44 L346.66 419.61 L347.32 419.73 L347.98 419.78 L348.64 419.66 L349.30 419.60" fill="none" stroke="#a2a6b8" stroke-width="0.9" opacity="0.8" stroke-linejoin="round"/>
<path d="M301.70 419.30 L302.36 419.45 L303.02 419.28 L303.68 419.24 L304.34 419.08 L305.01 419.23 L305.67 419.00 L306.33 419.04 L306.99 416.24 L307.65 414.06 L308.31 411.84 L308.97 408.97 L309.63 407.12 L310.29 403.39 L310.96 399.69 L311.62 397.13 L312.28 395.25 L312.94 389.10 L313.60 385.45 L314.26 387.76 L314.92 380.90 L315.58 377.22 L316.24 384.01 L316.91 386.07 L317.57 393.21 L318.23 393.96 L318.89 397.41 L319.55 403.48 L320.21 404.96 L320.87 408.91 L321.53 411.32 L322.19 414.24 L322.86 416.55 L323.52 417.97 L324.18 418.22 L324.84 418.62 L325.50 418.82 L326.16 418.95 L326.82 419.05 L327.48 418.81 L328.14 418.89 L328.81 419.07 L329.47 419.34 L330.13 419.03 L330.79 419.18 L331.45 419.20 L332.11 419.37 L332.77 419.05 L333.43 419.35 L334.09 419.61 L334.76 419.32 L335.42 419.09 L336.08 419.11 L336.74 419.66 L337.40 419.59 L338.06 419.16 L338.72 419.64 L339.38 419.55 L340.04 419.71 L340.71 419.24 L341.37 419.24 L342.03 419.80 L342.69 419.28 L343.35 419.71 L344.01 419.74 L344.67 419.28 L345.33 419.38 L345.99 419.74 L346.66 419.72 L347.32 419.84 L347.98 419.78 L348.64 419.46 L349.30 419.45" fill="none" stroke="#8494d2" stroke-width="1.0" opacity="0.9" stroke-linejoin="round"/>
<line x1="301.3" y1="376" x2="301.3" y2="420.6" stroke="#8a8a8a" stroke-width="0.7"/>
<line x1="301.3" y1="420.6" x2="349.3" y2="420.6" stroke="#8a8a8a" stroke-width="0.7"/>
<text x="340.8" y="423.0" font-size="2" font-weight="normal" fill="#444" text-anchor="middle">PE-A</text>
<text x="332.5" y="383.2" font-size="6.9" font-weight="normal" fill="#4a90cc" stroke="#4a90cc" stroke-width="0.22" text-anchor="start">2.98</text>
<path d="M356.00 419.43 L356.66 419.35 L357.32 419.52 L357.98 419.38 L358.64 419.38 L359.31 419.32 L359.97 419.12 L360.63 419.39 L361.29 418.98 L361.95 418.96 L362.61 418.93 L363.27 417.49 L363.93 415.50 L364.59 413.33 L365.26 411.02 L365.92 409.61 L366.58 407.88 L367.24 404.95 L367.90 401.15 L368.56 399.28 L369.22 395.18 L369.88 394.16 L370.54 391.38 L371.21 383.52 L371.87 387.11 L372.53 383.17 L373.19 382.32 L373.85 386.33 L374.51 391.85 L375.17 394.49 L375.83 398.41 L376.49 400.40 L377.16 402.64 L377.82 405.82 L378.48 409.04 L379.14 411.90 L379.80 413.85 L380.46 416.34 L381.12 417.49 L381.78 417.82 L382.44 417.86 L383.11 418.26 L383.77 418.34 L384.43 418.32 L385.09 418.81 L385.75 418.61 L386.41 418.88 L387.07 418.84 L387.73 419.13 L388.39 418.96 L389.06 419.18 L389.72 419.19 L390.38 419.46 L391.04 419.45 L391.70 419.49 L392.36 419.40 L393.02 419.36 L393.68 419.54 L394.34 419.22 L395.01 419.41 L395.67 419.19 L396.33 419.21 L396.99 419.60 L397.65 419.66 L398.31 419.52 L398.97 419.18 L399.63 419.49 L400.29 419.64 L400.96 419.41 L401.62 419.25 L402.28 419.23 L402.94 419.53 L403.60 419.66" fill="none" stroke="#a2a6b8" stroke-width="0.9" opacity="0.8" stroke-linejoin="round"/>
<path d="M356.00 419.33 L356.66 419.71 L357.32 419.15 L357.98 419.42 L358.64 419.35 L359.31 418.99 L359.97 419.45 L360.63 419.15 L361.29 419.28 L361.95 418.92 L362.61 418.13 L363.27 415.69 L363.93 413.54 L364.59 412.10 L365.26 408.79 L365.92 406.24 L366.58 403.07 L367.24 403.08 L367.90 398.87 L368.56 395.77 L369.22 392.47 L369.88 389.91 L370.54 387.85 L371.21 379.08 L371.87 376.00 L372.53 376.63 L373.19 379.64 L373.85 387.26 L374.51 393.87 L375.17 394.20 L375.83 399.96 L376.49 400.82 L377.16 404.21 L377.82 408.00 L378.48 410.68 L379.14 413.27 L379.80 415.03 L380.46 417.30 L381.12 417.91 L381.78 418.04 L382.44 418.21 L383.11 418.49 L383.77 418.38 L384.43 418.59 L385.09 418.90 L385.75 418.70 L386.41 419.10 L387.07 418.62 L387.73 418.66 L388.39 418.75 L389.06 419.14 L389.72 419.19 L390.38 419.22 L391.04 419.03 L391.70 419.40 L392.36 419.10 L393.02 419.11 L393.68 419.08 L394.34 419.27 L395.01 419.64 L395.67 419.17 L396.33 419.55 L396.99 419.16 L397.65 419.74 L398.31 419.63 L398.97 419.27 L399.63 419.36 L400.29 419.19 L400.96 419.24 L401.62 419.66 L402.28 419.71 L402.94 419.33 L403.60 419.51" fill="none" stroke="#8494d2" stroke-width="1.0" opacity="0.9" stroke-linejoin="round"/>
<line x1="355.6" y1="376" x2="355.6" y2="420.6" stroke="#8a8a8a" stroke-width="0.7"/>
<line x1="355.6" y1="420.6" x2="403.6" y2="420.6" stroke="#8a8a8a" stroke-width="0.7"/>
<text x="395.1" y="423.0" font-size="2" font-weight="normal" fill="#444" text-anchor="middle">PE-A</text>
<text x="386.8" y="383.2" font-size="6.9" font-weight="normal" fill="#4a90cc" stroke="#4a90cc" stroke-width="0.22" text-anchor="start">7.43</text>
<path d="M409.60 419.57 L410.26 419.39 L410.92 419.79 L411.58 419.75 L412.24 419.26 L412.91 419.71 L413.57 419.64 L414.23 419.72 L414.89 419.66 L415.55 419.37 L416.21 419.39 L416.87 419.12 L417.53 419.04 L418.19 418.93 L418.86 419.15 L419.52 418.66 L420.18 417.78 L420.84 416.16 L421.50 414.50 L422.16 411.50 L422.82 409.43 L423.48 407.12 L424.14 405.83 L424.81 402.95 L425.47 402.24 L426.13 399.06 L426.79 398.47 L427.45 394.28 L428.11 392.79 L428.77 391.37 L429.43 380.20 L430.09 385.62 L430.76 378.11 L431.42 384.22 L432.08 393.40 L432.74 393.85 L433.40 394.35 L434.06 397.99 L434.72 402.90 L435.38 405.11 L436.04 408.09 L436.71 411.47 L437.37 413.54 L438.03 415.69 L438.69 417.06 L439.35 417.61 L440.01 417.96 L440.67 417.60 L441.33 418.00 L441.99 418.35 L442.66 418.32 L443.32 418.51 L443.98 418.68 L444.64 418.56 L445.30 418.67 L445.96 418.77 L446.62 418.97 L447.28 419.12 L447.94 418.84 L448.61 419.04 L449.27 418.82 L449.93 419.24 L450.59 419.13 L451.25 419.55 L451.91 419.16 L452.57 419.35 L453.23 419.10 L453.89 419.21 L454.56 419.46 L455.22 419.38 L455.88 419.35 L456.54 419.24 L457.20 419.66" fill="none" stroke="#a2a6b8" stroke-width="0.9" opacity="0.8" stroke-linejoin="round"/>
<path d="M409.60 419.29 L410.26 419.50 L410.92 419.25 L411.58 419.51 L412.24 419.59 L412.91 419.49 L413.57 419.21 L414.23 419.71 L414.89 419.18 L415.55 419.56 L416.21 419.02 L416.87 418.99 L417.53 418.97 L418.19 419.18 L418.86 419.00 L419.52 418.26 L420.18 416.25 L420.84 414.63 L421.50 412.80 L422.16 410.07 L422.82 407.80 L423.48 405.76 L424.14 402.81 L424.81 399.42 L425.47 396.73 L426.13 397.52 L426.79 394.05 L427.45 389.26 L428.11 385.40 L428.77 385.01 L429.43 376.00 L430.09 377.17 L430.76 379.50 L431.42 389.43 L432.08 391.60 L432.74 396.36 L433.40 396.25 L434.06 400.58 L434.72 402.50 L435.38 406.38 L436.04 409.66 L436.71 412.24 L437.37 414.78 L438.03 417.19 L438.69 417.22 L439.35 417.31 L440.01 417.75 L440.67 418.01 L441.33 418.25 L441.99 418.45 L442.66 418.43 L443.32 418.40 L443.98 418.53 L444.64 418.50 L445.30 419.02 L445.96 418.70 L446.62 418.61 L447.28 418.75 L447.94 418.71 L448.61 418.78 L449.27 419.26 L449.93 419.33 L450.59 419.07 L451.25 419.54 L451.91 419.23 L452.57 419.59 L453.23 419.09 L453.89 419.13 L454.56 419.26 L455.22 419.51 L455.88 419.56 L456.54 419.59 L457.20 419.31" fill="none" stroke="#8494d2" stroke-width="1.0" opacity="0.9" stroke-linejoin="round"/>
<line x1="409.2" y1="376" x2="409.2" y2="420.6" stroke="#8a8a8a" stroke-width="0.7"/>
<line x1="409.2" y1="420.6" x2="457.2" y2="420.6" stroke="#8a8a8a" stroke-width="0.7"/>
<text x="448.7" y="423.0" font-size="2" font-weight="normal" fill="#444" text-anchor="middle">PE-A</text>
<text x="440.4" y="383.2" font-size="6.9" font-weight="normal" fill="#4a90cc" stroke="#4a90cc" stroke-width="0.22" text-anchor="start">13.26</text>
<path d="M463.20 419.32 L463.86 419.71 L464.52 419.41 L465.18 419.82 L465.84 419.27 L466.51 419.41 L467.17 419.39 L467.83 419.39 L468.49 419.54 L469.15 419.31 L469.81 419.37 L470.47 419.45 L471.13 419.22 L471.79 419.14 L472.46 418.86 L473.12 419.06 L473.78 418.36 L474.44 416.26 L475.10 414.30 L475.76 413.19 L476.42 410.13 L477.08 407.56 L477.74 405.90 L478.41 403.26 L479.07 399.58 L479.73 396.34 L480.39 398.04 L481.05 393.20 L481.71 393.99 L482.37 388.22 L483.03 387.36 L483.69 383.91 L484.36 381.65 L485.02 391.02 L485.68 393.68 L486.34 397.66 L487.00 396.05 L487.66 401.85 L488.32 405.08 L488.98 405.87 L489.64 408.29 L490.31 411.02 L490.97 413.57 L491.63 415.47 L492.29 416.38 L492.95 416.50 L493.61 416.72 L494.27 417.32 L494.93 417.43 L495.59 417.64 L496.26 418.02 L496.92 418.34 L497.58 418.15 L498.24 418.21 L498.90 418.45 L499.56 418.40 L500.22 418.90 L500.88 418.88 L501.54 418.96 L502.21 419.17 L502.87 419.14 L503.53 418.84 L504.19 419.27 L504.85 419.13 L505.51 419.14 L506.17 419.38 L506.83 419.48 L507.49 419.18 L508.16 419.25 L508.82 419.28 L509.48 419.50 L510.14 419.18 L510.80 419.50" fill="none" stroke="#a2a6b8" stroke-width="0.9" opacity="0.8" stroke-linejoin="round"/>
<path d="M463.20 419.77 L463.86 419.37 L464.52 419.55 L465.18 419.48 L465.84 419.79 L466.51 419.24 L467.17 419.66 L467.83 419.25 L468.49 419.28 L469.15 419.64 L469.81 419.54 L470.47 419.23 L471.13 418.98 L471.79 419.33 L472.46 419.12 L473.12 418.91 L473.78 416.70 L474.44 414.99 L475.10 412.44 L475.76 410.47 L476.42 408.79 L477.08 405.81 L477.74 404.43 L478.41 400.69 L479.07 399.69 L479.73 393.57 L480.39 393.62 L481.05 386.99 L481.71 388.06 L482.37 384.83 L483.03 380.85 L483.69 376.00 L484.36 380.36 L485.02 385.62 L485.68 390.74 L486.34 396.41 L487.00 399.06 L487.66 402.64 L488.32 402.96 L488.98 407.62 L489.64 409.22 L490.31 412.69 L490.97 414.81 L491.63 416.25 L492.29 416.40 L492.95 417.17 L493.61 416.70 L494.27 417.59 L494.93 417.49 L495.59 417.84 L496.26 417.76 L496.92 417.72 L497.58 417.90 L498.24 418.38 L498.90 418.15 L499.56 418.58 L500.22 418.61 L500.88 418.80 L501.54 418.72 L502.21 419.11 L502.87 418.70 L503.53 418.79 L504.19 418.77 L504.85 418.87 L505.51 419.04 L506.17 419.47 L506.83 419.50 L507.49 418.96 L508.16 419.09 L508.82 419.01 L509.48 419.33 L510.14 419.44 L510.80 419.41" fill="none" stroke="#8494d2" stroke-width="1.0" opacity="0.9" stroke-linejoin="round"/>
<line x1="462.8" y1="376" x2="462.8" y2="420.6" stroke="#8a8a8a" stroke-width="0.7"/>
<line x1="462.8" y1="420.6" x2="510.8" y2="420.6" stroke="#8a8a8a" stroke-width="0.7"/>
<text x="502.3" y="423.0" font-size="2" font-weight="normal" fill="#444" text-anchor="middle">PE-A</text>
<text x="494.0" y="383.2" font-size="6.9" font-weight="normal" fill="#4a90cc" stroke="#4a90cc" stroke-width="0.22" text-anchor="start">17.47</text>
<path d="M248.40 461.74 L249.06 461.35 L249.72 459.69 L250.38 459.55 L251.04 458.05 L251.71 457.38 L252.37 455.57 L253.03 455.65 L253.69 453.39 L254.35 452.40 L255.01 452.12 L255.67 447.31 L256.33 445.01 L256.99 447.21 L257.66 442.52 L258.32 441.05 L258.98 439.56 L259.64 435.72 L260.30 432.21 L260.96 433.25 L261.62 429.21 L262.28 431.42 L262.94 431.58 L263.61 436.83 L264.27 442.00 L264.93 447.30 L265.59 448.64 L266.25 451.78 L266.91 455.25 L267.57 459.49 L268.23 461.75 L268.89 464.17 L269.56 466.46 L270.22 467.43 L270.88 467.15 L271.54 467.16 L272.20 467.67 L272.86 467.60 L273.52 467.63 L274.18 467.57 L274.84 467.68 L275.51 467.44 L276.17 467.49 L276.83 467.99 L277.49 467.75 L278.15 467.47 L278.81 468.00 L279.47 468.00 L280.13 467.99 L280.79 467.71 L281.46 467.66 L282.12 468.05 L282.78 467.95 L283.44 468.05 L284.10 467.97 L284.76 468.06 L285.42 468.02 L286.08 467.57 L286.74 468.09 L287.41 467.89 L288.07 467.82 L288.73 467.65 L289.39 467.95 L290.05 467.49 L290.71 467.53 L291.37 467.60 L292.03 467.64 L292.69 467.97 L293.36 467.98 L294.02 468.03 L294.68 468.09 L295.34 467.65 L296.00 467.66" fill="none" stroke="#ac8a8a" stroke-width="0.9" opacity="0.8" stroke-linejoin="round"/>
<path d="M248.40 460.91 L249.06 460.40 L249.72 458.92 L250.38 457.57 L251.04 455.74 L251.71 455.04 L252.37 454.76 L253.03 453.68 L253.69 452.03 L254.35 450.72 L255.01 446.83 L255.67 444.83 L256.33 446.05 L256.99 440.98 L257.66 437.93 L258.32 439.49 L258.98 435.19 L259.64 434.46 L260.30 429.96 L260.96 424.00 L261.62 429.56 L262.28 431.69 L262.94 435.37 L263.61 438.32 L264.27 442.04 L264.93 446.15 L265.59 451.20 L266.25 454.41 L266.91 456.42 L267.57 459.61 L268.23 462.66 L268.89 465.03 L269.56 467.32 L270.22 467.37 L270.88 467.30 L271.54 467.59 L272.20 467.47 L272.86 467.70 L273.52 467.40 L274.18 467.38 L274.84 467.96 L275.51 467.45 L276.17 467.51 L276.83 467.49 L277.49 468.04 L278.15 468.01 L278.81 467.93 L279.47 467.79 L280.13 467.49 L280.79 467.58 L281.46 467.73 L282.12 467.82 L282.78 467.81 L283.44 467.55 L284.10 468.04 L284.76 467.85 L285.42 467.79 L286.08 467.94 L286.74 467.74 L287.41 467.77 L288.07 468.04 L288.73 467.88 L289.39 468.08 L290.05 467.56 L290.71 467.79 L291.37 467.63 L292.03 467.91 L292.69 467.90 L293.36 467.74 L294.02 467.52 L294.68 467.96 L295.34 468.03 L296.00 468.10" fill="none" stroke="#c25c5c" stroke-width="1.0" opacity="0.9" stroke-linejoin="round"/>
<line x1="248" y1="424" x2="248" y2="468.8" stroke="#8a8a8a" stroke-width="0.7"/>
<line x1="248" y1="468.8" x2="296" y2="468.8" stroke="#8a8a8a" stroke-width="0.7"/>
<text x="287.5" y="471.2" font-size="2" font-weight="normal" fill="#444" text-anchor="middle">PE-A</text>
<text x="279.2" y="431.2" font-size="6.9" font-weight="normal" fill="#e03a32" stroke="#e03a32" stroke-width="0.22" text-anchor="start">0.03</text>
<path d="M301.70 467.76 L302.36 467.54 L303.02 467.44 L303.68 467.65 L304.34 467.54 L305.01 467.32 L305.67 467.32 L306.33 466.30 L306.99 464.12 L307.65 462.14 L308.31 460.55 L308.97 457.54 L309.63 456.43 L310.29 453.20 L310.96 451.32 L311.62 446.72 L312.28 444.31 L312.94 445.36 L313.60 442.81 L314.26 436.91 L314.92 435.87 L315.58 432.18 L316.24 424.47 L316.91 429.95 L317.57 442.11 L318.23 445.14 L318.89 444.66 L319.55 446.52 L320.21 450.13 L320.87 453.84 L321.53 456.60 L322.19 459.79 L322.86 462.34 L323.52 464.57 L324.18 466.55 L324.84 466.77 L325.50 466.78 L326.16 467.14 L326.82 466.94 L327.48 467.51 L328.14 467.12 L328.81 467.29 L329.47 467.37 L330.13 467.25 L330.79 467.26 L331.45 467.80 L332.11 467.44 L332.77 467.59 L333.43 467.93 L334.09 467.76 L334.76 467.93 L335.42 467.46 L336.08 467.56 L336.74 467.54 L337.40 467.42 L338.06 467.90 L338.72 467.88 L339.38 467.47 L340.04 467.53 L340.71 467.76 L341.37 467.94 L342.03 467.80 L342.69 467.99 L343.35 467.85 L344.01 467.94 L344.67 467.72 L345.33 467.88 L345.99 467.91 L346.66 467.84 L347.32 467.49 L347.98 467.72 L348.64 467.57 L349.30 467.72" fill="none" stroke="#ac8a8a" stroke-width="0.9" opacity="0.8" stroke-linejoin="round"/>
<path d="M301.70 467.79 L302.36 467.79 L303.02 467.47 L303.68 467.22 L304.34 467.35 L305.01 467.11 L305.67 467.31 L306.33 465.22 L306.99 463.27 L307.65 460.96 L308.31 457.73 L308.97 455.61 L309.63 452.73 L310.29 450.51 L310.96 448.09 L311.62 443.57 L312.28 442.98 L312.94 440.41 L313.60 437.04 L314.26 435.28 L314.92 432.32 L315.58 427.05 L316.24 428.62 L316.91 436.50 L317.57 438.59 L318.23 443.27 L318.89 444.73 L319.55 449.90 L320.21 452.30 L320.87 454.66 L321.53 457.70 L322.19 460.41 L322.86 463.54 L323.52 465.71 L324.18 466.60 L324.84 466.75 L325.50 466.80 L326.16 467.19 L326.82 466.98 L327.48 467.35 L328.14 467.20 L328.81 467.48 L329.47 467.22 L330.13 467.25 L330.79 467.72 L331.45 467.45 L332.11 467.74 L332.77 467.47 L333.43 467.67 L334.09 467.46 L334.76 467.59 L335.42 467.74 L336.08 467.62 L336.74 467.64 L337.40 467.69 L338.06 467.77 L338.72 468.03 L339.38 467.62 L340.04 467.63 L340.71 468.03 L341.37 468.01 L342.03 467.67 L342.69 467.77 L343.35 467.76 L344.01 467.76 L344.67 467.96 L345.33 467.93 L345.99 468.05 L346.66 467.95 L347.32 467.93 L347.98 467.89 L348.64 467.53 L349.30 467.96" fill="none" stroke="#c25c5c" stroke-width="1.0" opacity="0.9" stroke-linejoin="round"/>
<line x1="301.3" y1="424" x2="301.3" y2="468.8" stroke="#8a8a8a" stroke-width="0.7"/>
<line x1="301.3" y1="468.8" x2="349.3" y2="468.8" stroke="#8a8a8a" stroke-width="0.7"/>
<text x="340.8" y="471.2" font-size="2" font-weight="normal" fill="#444" text-anchor="middle">PE-A</text>
<text x="332.5" y="431.2" font-size="6.9" font-weight="normal" fill="#e03a32" stroke="#e03a32" stroke-width="0.22" text-anchor="start">1.50</text>
<path d="M356.00 467.60 L356.66 467.55 L357.32 467.49 L357.98 467.81 L358.64 467.66 L359.31 467.39 L359.97 467.59 L360.63 467.39 L361.29 467.54 L361.95 467.37 L362.61 467.30 L363.27 466.23 L363.93 464.16 L364.59 461.88 L365.26 460.01 L365.92 457.07 L366.58 454.84 L367.24 454.64 L367.90 451.78 L368.56 447.48 L369.22 445.65 L369.88 445.85 L370.54 437.21 L371.21 435.02 L371.87 433.42 L372.53 428.57 L373.19 433.73 L373.85 434.00 L374.51 441.34 L375.17 441.11 L375.83 443.18 L376.49 450.02 L377.16 452.58 L377.82 454.37 L378.48 456.50 L379.14 460.45 L379.80 462.61 L380.46 464.84 L381.12 466.65 L381.78 466.83 L382.44 467.28 L383.11 467.16 L383.77 467.45 L384.43 467.35 L385.09 467.27 L385.75 467.50 L386.41 467.60 L387.07 467.42 L387.73 467.80 L388.39 467.42 L389.06 467.64 L389.72 467.75 L390.38 467.47 L391.04 467.78 L391.70 467.95 L392.36 467.77 L393.02 467.41 L393.68 467.84 L394.34 467.51 L395.01 467.76 L395.67 467.47 L396.33 467.84 L396.99 467.64 L397.65 467.55 L398.31 467.50 L398.97 467.69 L399.63 467.79 L400.29 467.56 L400.96 467.79 L401.62 467.89 L402.28 467.90 L402.94 467.69 L403.60 467.89" fill="none" stroke="#ac8a8a" stroke-width="0.9" opacity="0.8" stroke-linejoin="round"/>
<path d="M356.00 467.72 L356.66 467.63 L357.32 467.76 L357.98 467.87 L358.64 467.28 L359.31 467.23 L359.97 467.63 L360.63 467.41 L361.29 467.07 L361.95 466.92 L362.61 466.97 L363.27 464.65 L363.93 462.63 L364.59 460.67 L365.26 458.48 L365.92 455.35 L366.58 452.08 L367.24 451.84 L367.90 449.24 L368.56 442.94 L369.22 444.23 L369.88 440.97 L370.54 435.34 L371.21 433.07 L371.87 425.68 L372.53 425.40 L373.19 427.58 L373.85 437.37 L374.51 440.36 L375.17 443.98 L375.83 444.77 L376.49 447.65 L377.16 452.69 L377.82 455.90 L378.48 458.84 L379.14 461.31 L379.80 463.43 L380.46 465.70 L381.12 467.07 L381.78 466.74 L382.44 466.78 L383.11 467.44 L383.77 467.19 L384.43 467.49 L385.09 467.63 L385.75 467.38 L386.41 467.44 L387.07 467.60 L387.73 467.84 L388.39 467.89 L389.06 467.46 L389.72 467.44 L390.38 467.85 L391.04 467.76 L391.70 467.51 L392.36 467.73 L393.02 467.63 L393.68 467.64 L394.34 467.41 L395.01 467.98 L395.67 467.67 L396.33 467.47 L396.99 467.49 L397.65 467.83 L398.31 467.64 L398.97 467.96 L399.63 467.55 L400.29 467.61 L400.96 468.06 L401.62 467.83 L402.28 467.79 L402.94 468.06 L403.60 467.61" fill="none" stroke="#c25c5c" stroke-width="1.0" opacity="0.9" stroke-linejoin="round"/>
<line x1="355.6" y1="424" x2="355.6" y2="468.8" stroke="#8a8a8a" stroke-width="0.7"/>
<line x1="355.6" y1="468.8" x2="403.6" y2="468.8" stroke="#8a8a8a" stroke-width="0.7"/>
<text x="395.1" y="471.2" font-size="2" font-weight="normal" fill="#444" text-anchor="middle">PE-A</text>
<text x="386.8" y="431.2" font-size="6.9" font-weight="normal" fill="#e03a32" stroke="#e03a32" stroke-width="0.22" text-anchor="start">1.50</text>
<path d="M409.60 467.55 L410.26 468.07 L410.92 467.93 L411.58 467.55 L412.24 467.70 L412.91 467.89 L413.57 467.81 L414.23 467.45 L414.89 468.00 L415.55 467.41 L416.21 467.60 L416.87 467.53 L417.53 467.68 L418.19 467.76 L418.86 467.79 L419.52 467.33 L420.18 467.44 L420.84 467.01 L421.50 466.89 L422.16 465.24 L422.82 463.34 L423.48 461.07 L424.14 457.63 L424.81 454.46 L425.47 453.93 L426.13 450.52 L426.79 446.26 L427.45 443.06 L428.11 442.84 L428.77 434.82 L429.43 436.49 L430.09 424.00 L430.76 429.87 L431.42 435.07 L432.08 437.80 L432.74 446.23 L433.40 449.70 L434.06 451.25 L434.72 453.81 L435.38 457.08 L436.04 460.48 L436.71 463.65 L437.37 466.06 L438.03 466.28 L438.69 466.69 L439.35 467.04 L440.01 466.86 L440.67 467.37 L441.33 467.26 L441.99 467.34 L442.66 467.05 L443.32 467.41 L443.98 467.50 L444.64 467.66 L445.30 467.27 L445.96 467.45 L446.62 467.35 L447.28 467.70 L447.94 467.58 L448.61 467.32 L449.27 467.66 L449.93 467.72 L450.59 467.57 L451.25 467.60 L451.91 467.68 L452.57 467.79 L453.23 467.62 L453.89 467.79 L454.56 467.71 L455.22 467.63 L455.88 467.88 L456.54 467.74 L457.20 467.68" fill="none" stroke="#ac8a8a" stroke-width="0.9" opacity="0.8" stroke-linejoin="round"/>
<path d="M409.60 467.77 L410.26 467.86 L410.92 467.65 L411.58 467.86 L412.24 468.06 L412.91 467.56 L413.57 467.51 L414.23 467.57 L414.89 467.94 L415.55 467.87 L416.21 467.70 L416.87 467.75 L417.53 467.85 L418.19 467.26 L418.86 467.50 L419.52 467.31 L420.18 466.94 L420.84 467.15 L421.50 465.93 L422.16 463.50 L422.82 460.97 L423.48 458.65 L424.14 455.60 L424.81 452.96 L425.47 450.97 L426.13 444.72 L426.79 443.03 L427.45 439.23 L428.11 438.54 L428.77 433.06 L429.43 431.20 L430.09 424.00 L430.76 430.99 L431.42 436.95 L432.08 440.32 L432.74 445.59 L433.40 449.00 L434.06 451.31 L434.72 456.63 L435.38 458.87 L436.04 462.26 L436.71 465.22 L437.37 466.61 L438.03 466.58 L438.69 466.81 L439.35 466.93 L440.01 467.09 L440.67 466.97 L441.33 467.27 L441.99 467.37 L442.66 467.19 L443.32 467.11 L443.98 467.33 L444.64 467.39 L445.30 467.52 L445.96 467.50 L446.62 467.45 L447.28 467.52 L447.94 467.65 L448.61 467.91 L449.27 467.79 L449.93 467.90 L450.59 467.77 L451.25 467.45 L451.91 467.46 L452.57 467.45 L453.23 467.46 L453.89 467.94 L454.56 467.68 L455.22 467.41 L455.88 467.43 L456.54 468.03 L457.20 467.54" fill="none" stroke="#c25c5c" stroke-width="1.0" opacity="0.9" stroke-linejoin="round"/>
<line x1="409.2" y1="424" x2="409.2" y2="468.8" stroke="#8a8a8a" stroke-width="0.7"/>
<line x1="409.2" y1="468.8" x2="457.2" y2="468.8" stroke="#8a8a8a" stroke-width="0.7"/>
<text x="448.7" y="471.2" font-size="2" font-weight="normal" fill="#444" text-anchor="middle">PE-A</text>
<text x="440.4" y="431.2" font-size="6.9" font-weight="normal" fill="#e03a32" stroke="#e03a32" stroke-width="0.22" text-anchor="start">4.46</text>
<path d="M463.20 468.03 L463.86 467.93 L464.52 467.99 L465.18 467.66 L465.84 468.03 L466.51 467.51 L467.17 467.99 L467.83 467.49 L468.49 467.96 L469.15 467.41 L469.81 467.77 L470.47 467.50 L471.13 467.54 L471.79 467.32 L472.46 467.30 L473.12 467.60 L473.78 467.10 L474.44 467.59 L475.10 467.11 L475.76 466.42 L476.42 463.45 L477.08 461.64 L477.74 459.84 L478.41 457.39 L479.07 454.49 L479.73 451.74 L480.39 449.54 L481.05 447.44 L481.71 442.88 L482.37 440.49 L483.03 437.12 L483.69 434.71 L484.36 428.34 L485.02 431.46 L485.68 439.44 L486.34 444.73 L487.00 446.15 L487.66 450.91 L488.32 453.44 L488.98 455.78 L489.64 457.18 L490.31 461.33 L490.97 463.39 L491.63 465.93 L492.29 465.83 L492.95 466.53 L493.61 466.57 L494.27 466.86 L494.93 466.72 L495.59 466.58 L496.26 467.09 L496.92 466.85 L497.58 467.45 L498.24 467.10 L498.90 467.25 L499.56 467.17 L500.22 467.36 L500.88 467.59 L501.54 467.38 L502.21 467.30 L502.87 467.30 L503.53 467.48 L504.19 467.42 L504.85 467.82 L505.51 467.69 L506.17 467.83 L506.83 467.62 L507.49 467.44 L508.16 467.98 L508.82 467.42 L509.48 467.59 L510.14 467.84 L510.80 467.59" fill="none" stroke="#ac8a8a" stroke-width="0.9" opacity="0.8" stroke-linejoin="round"/>
<path d="M463.20 467.54 L463.86 467.48 L464.52 467.81 L465.18 467.89 L465.84 467.49 L466.51 467.51 L467.17 467.64 L467.83 467.53 L468.49 467.63 L469.15 467.87 L469.81 467.92 L470.47 467.47 L471.13 467.59 L471.79 467.51 L472.46 467.27 L473.12 467.66 L473.78 467.04 L474.44 467.02 L475.10 466.76 L475.76 464.85 L476.42 461.95 L477.08 458.92 L477.74 456.01 L478.41 453.15 L479.07 451.63 L479.73 447.83 L480.39 446.84 L481.05 441.45 L481.71 437.57 L482.37 436.49 L483.03 431.80 L483.69 424.00 L484.36 429.11 L485.02 433.02 L485.68 436.53 L486.34 440.45 L487.00 444.47 L487.66 450.50 L488.32 452.65 L488.98 456.81 L489.64 459.35 L490.31 462.01 L490.97 464.85 L491.63 465.72 L492.29 466.42 L492.95 466.58 L493.61 466.79 L494.27 466.48 L494.93 466.91 L495.59 466.89 L496.26 467.30 L496.92 467.31 L497.58 467.16 L498.24 467.47 L498.90 466.97 L499.56 467.45 L500.22 467.34 L500.88 467.38 L501.54 467.15 L502.21 467.41 L502.87 467.81 L503.53 467.58 L504.19 467.37 L504.85 467.41 L505.51 467.52 L506.17 467.62 L506.83 467.63 L507.49 467.70 L508.16 467.85 L508.82 467.38 L509.48 467.79 L510.14 467.79 L510.80 467.84" fill="none" stroke="#c25c5c" stroke-width="1.0" opacity="0.9" stroke-linejoin="round"/>
<line x1="462.8" y1="424" x2="462.8" y2="468.8" stroke="#8a8a8a" stroke-width="0.7"/>
<line x1="462.8" y1="468.8" x2="510.8" y2="468.8" stroke="#8a8a8a" stroke-width="0.7"/>
<text x="502.3" y="471.2" font-size="2" font-weight="normal" fill="#444" text-anchor="middle">PE-A</text>
<text x="494.0" y="431.2" font-size="6.9" font-weight="normal" fill="#e03a32" stroke="#e03a32" stroke-width="0.22" text-anchor="start">8.46</text>
<path d="M248.40 520.81 L249.06 520.02 L249.72 517.79 L250.38 516.96 L251.04 515.72 L251.71 513.52 L252.37 514.23 L253.03 510.75 L253.69 511.06 L254.35 509.43 L255.01 507.49 L255.67 503.60 L256.33 500.28 L256.99 499.31 L257.66 499.63 L258.32 498.82 L258.98 494.98 L259.64 492.94 L260.30 486.60 L260.96 488.38 L261.62 496.01 L262.28 498.22 L262.94 496.41 L263.61 500.87 L264.27 506.93 L264.93 506.00 L265.59 510.27 L266.25 512.85 L266.91 514.18 L267.57 516.82 L268.23 519.44 L268.89 521.63 L269.56 523.14 L270.22 525.35 L270.88 525.37 L271.54 525.18 L272.20 525.63 L272.86 525.44 L273.52 525.69 L274.18 525.71 L274.84 525.68 L275.51 525.47 L276.17 525.44 L276.83 525.67 L277.49 525.82 L278.15 525.54 L278.81 525.53 L279.47 526.01 L280.13 525.92 L280.79 525.48 L281.46 525.82 L282.12 525.71 L282.78 525.49 L283.44 526.02 L284.10 526.00 L284.76 525.96 L285.42 525.97 L286.08 525.76 L286.74 525.64 L287.41 525.99 L288.07 525.71 L288.73 525.98 L289.39 525.82 L290.05 525.91 L290.71 525.82 L291.37 525.64 L292.03 525.79 L292.69 525.68 L293.36 525.63 L294.02 526.01 L294.68 525.76 L295.34 526.00 L296.00 526.07" fill="none" stroke="#a2a6b8" stroke-width="0.9" opacity="0.8" stroke-linejoin="round"/>
<path d="M248.40 519.89 L249.06 518.78 L249.72 516.53 L250.38 515.36 L251.04 513.79 L251.71 512.10 L252.37 511.87 L253.03 508.69 L253.69 508.27 L254.35 506.37 L255.01 505.69 L255.67 502.91 L256.33 500.27 L256.99 495.41 L257.66 494.61 L258.32 493.35 L258.98 487.67 L259.64 487.00 L260.30 482.50 L260.96 489.61 L261.62 494.18 L262.28 496.38 L262.94 498.58 L263.61 501.47 L264.27 505.89 L264.93 507.68 L265.59 510.09 L266.25 513.60 L266.91 515.81 L267.57 518.00 L268.23 520.04 L268.89 522.59 L269.56 524.47 L270.22 525.16 L270.88 525.23 L271.54 525.15 L272.20 525.22 L272.86 525.77 L273.52 525.61 L274.18 525.64 L274.84 525.60 L275.51 525.44 L276.17 525.74 L276.83 525.98 L277.49 525.66 L278.15 525.87 L278.81 526.03 L279.47 525.65 L280.13 525.73 L280.79 526.00 L281.46 525.77 L282.12 525.60 L282.78 525.63 L283.44 525.79 L284.10 525.76 L284.76 525.60 L285.42 525.49 L286.08 525.78 L286.74 526.06 L287.41 526.01 L288.07 525.91 L288.73 525.79 L289.39 525.54 L290.05 525.63 L290.71 525.63 L291.37 525.99 L292.03 525.81 L292.69 525.69 L293.36 525.57 L294.02 526.06 L294.68 525.81 L295.34 525.84 L296.00 525.93" fill="none" stroke="#8494d2" stroke-width="1.0" opacity="0.9" stroke-linejoin="round"/>
<line x1="248" y1="482.5" x2="248" y2="526.8" stroke="#8a8a8a" stroke-width="0.7"/>
<line x1="248" y1="526.8" x2="296" y2="526.8" stroke="#8a8a8a" stroke-width="0.7"/>
<text x="287.5" y="529.1999999999999" font-size="2" font-weight="normal" fill="#444" text-anchor="middle">PE-A</text>
<text x="279.2" y="489.7" font-size="6.9" font-weight="normal" fill="#4a90cc" stroke="#4a90cc" stroke-width="0.22" text-anchor="start">0.05</text>
<path d="M301.70 525.29 L302.36 524.99 L303.02 525.11 L303.68 524.17 L304.34 522.37 L305.01 521.01 L305.67 518.91 L306.33 517.28 L306.99 515.81 L307.65 513.50 L308.31 513.78 L308.97 510.78 L309.63 507.19 L310.29 505.45 L310.96 504.75 L311.62 503.91 L312.28 501.04 L312.94 498.13 L313.60 498.30 L314.26 488.08 L314.92 487.72 L315.58 485.78 L316.24 492.29 L316.91 494.05 L317.57 496.35 L318.23 501.20 L318.89 502.51 L319.55 504.85 L320.21 505.59 L320.87 507.50 L321.53 512.88 L322.19 514.47 L322.86 514.92 L323.52 518.51 L324.18 520.03 L324.84 521.67 L325.50 523.51 L326.16 524.40 L326.82 524.69 L327.48 524.89 L328.14 524.88 L328.81 525.24 L329.47 525.38 L330.13 525.09 L330.79 525.36 L331.45 525.17 L332.11 525.22 L332.77 525.26 L333.43 525.44 L334.09 525.59 L334.76 525.55 L335.42 525.63 L336.08 525.35 L336.74 525.82 L337.40 525.48 L338.06 525.44 L338.72 525.57 L339.38 525.40 L340.04 525.81 L340.71 525.84 L341.37 525.66 L342.03 525.91 L342.69 525.98 L343.35 525.87 L344.01 525.59 L344.67 525.57 L345.33 525.59 L345.99 525.57 L346.66 526.03 L347.32 525.92 L347.98 525.97 L348.64 525.61 L349.30 525.63" fill="none" stroke="#a2a6b8" stroke-width="0.9" opacity="0.8" stroke-linejoin="round"/>
<path d="M301.70 525.07 L302.36 525.07 L303.02 524.52 L303.68 523.27 L304.34 521.50 L305.01 519.99 L305.67 517.55 L306.33 515.88 L306.99 514.34 L307.65 512.52 L308.31 511.24 L308.97 509.23 L309.63 504.61 L310.29 505.11 L310.96 501.30 L311.62 498.67 L312.28 495.00 L312.94 496.06 L313.60 491.73 L314.26 490.99 L314.92 488.27 L315.58 485.56 L316.24 488.07 L316.91 493.27 L317.57 496.03 L318.23 498.15 L318.89 503.57 L319.55 502.74 L320.21 508.37 L320.87 509.53 L321.53 511.16 L322.19 514.89 L322.86 516.74 L323.52 518.94 L324.18 520.83 L324.84 522.17 L325.50 524.32 L326.16 524.59 L326.82 524.46 L327.48 524.68 L328.14 525.04 L328.81 525.08 L329.47 525.03 L330.13 524.97 L330.79 525.21 L331.45 525.08 L332.11 525.61 L332.77 525.33 L333.43 525.42 L334.09 525.37 L334.76 525.67 L335.42 525.58 L336.08 525.44 L336.74 525.55 L337.40 525.70 L338.06 525.56 L338.72 525.63 L339.38 525.46 L340.04 525.93 L340.71 525.87 L341.37 525.78 L342.03 525.63 L342.69 525.89 L343.35 525.61 L344.01 525.47 L344.67 525.82 L345.33 525.60 L345.99 525.90 L346.66 525.80 L347.32 525.78 L347.98 525.76 L348.64 525.84 L349.30 525.54" fill="none" stroke="#8494d2" stroke-width="1.0" opacity="0.9" stroke-linejoin="round"/>
<line x1="301.3" y1="482.5" x2="301.3" y2="526.8" stroke="#8a8a8a" stroke-width="0.7"/>
<line x1="301.3" y1="526.8" x2="349.3" y2="526.8" stroke="#8a8a8a" stroke-width="0.7"/>
<text x="340.8" y="529.1999999999999" font-size="2" font-weight="normal" fill="#444" text-anchor="middle">PE-A</text>
<text x="332.5" y="489.7" font-size="6.9" font-weight="normal" fill="#4a90cc" stroke="#4a90cc" stroke-width="0.22" text-anchor="start">3.98</text>
<path d="M356.00 525.55 L356.66 525.32 L357.32 525.37 L357.98 525.28 L358.64 525.36 L359.31 525.42 L359.97 525.21 L360.63 525.12 L361.29 525.01 L361.95 522.94 L362.61 521.61 L363.27 519.10 L363.93 517.74 L364.59 515.94 L365.26 514.91 L365.92 511.53 L366.58 509.74 L367.24 508.46 L367.90 503.13 L368.56 502.18 L369.22 500.10 L369.88 494.98 L370.54 495.73 L371.21 487.09 L371.87 486.36 L372.53 487.78 L373.19 490.73 L373.85 489.61 L374.51 496.24 L375.17 503.33 L375.83 500.91 L376.49 505.97 L377.16 508.88 L377.82 510.50 L378.48 513.56 L379.14 514.56 L379.80 516.86 L380.46 519.19 L381.12 521.18 L381.78 522.80 L382.44 524.33 L383.11 524.12 L383.77 524.23 L384.43 524.48 L385.09 524.57 L385.75 524.79 L386.41 524.95 L387.07 524.83 L387.73 524.94 L388.39 525.44 L389.06 525.37 L389.72 525.18 L390.38 525.07 L391.04 525.50 L391.70 525.42 L392.36 525.26 L393.02 525.70 L393.68 525.26 L394.34 525.55 L395.01 525.59 L395.67 525.81 L396.33 525.50 L396.99 525.43 L397.65 525.42 L398.31 525.66 L398.97 525.43 L399.63 525.71 L400.29 525.86 L400.96 525.99 L401.62 525.42 L402.28 525.92 L402.94 525.53 L403.60 525.47" fill="none" stroke="#a2a6b8" stroke-width="0.9" opacity="0.8" stroke-linejoin="round"/>
<path d="M356.00 525.56 L356.66 525.50 L357.32 525.60 L357.98 525.60 L358.64 525.35 L359.31 525.55 L359.97 524.93 L360.63 525.40 L361.29 523.48 L361.95 521.88 L362.61 520.17 L363.27 518.53 L363.93 516.49 L364.59 514.07 L365.26 511.32 L365.92 508.82 L366.58 506.55 L367.24 503.12 L367.90 501.76 L368.56 498.80 L369.22 495.46 L369.88 494.98 L370.54 486.70 L371.21 490.34 L371.87 482.50 L372.53 486.23 L373.19 492.08 L373.85 494.54 L374.51 496.51 L375.17 501.68 L375.83 504.71 L376.49 506.51 L377.16 506.88 L377.82 510.12 L378.48 513.47 L379.14 515.17 L379.80 518.08 L380.46 520.25 L381.12 521.90 L381.78 524.02 L382.44 524.34 L383.11 524.11 L383.77 524.34 L384.43 524.43 L385.09 524.60 L385.75 524.74 L386.41 525.12 L387.07 525.04 L387.73 525.08 L388.39 525.48 L389.06 525.17 L389.72 525.18 L390.38 525.31 L391.04 525.12 L391.70 525.47 L392.36 525.65 L393.02 525.22 L393.68 525.71 L394.34 525.28 L395.01 525.36 L395.67 525.72 L396.33 525.63 L396.99 525.74 L397.65 525.53 L398.31 525.44 L398.97 525.94 L399.63 525.91 L400.29 525.93 L400.96 525.95 L401.62 525.65 L402.28 525.80 L402.94 525.80 L403.60 525.77" fill="none" stroke="#8494d2" stroke-width="1.0" opacity="0.9" stroke-linejoin="round"/>
<line x1="355.6" y1="482.5" x2="355.6" y2="526.8" stroke="#8a8a8a" stroke-width="0.7"/>
<line x1="355.6" y1="526.8" x2="403.6" y2="526.8" stroke="#8a8a8a" stroke-width="0.7"/>
<text x="395.1" y="529.1999999999999" font-size="2" font-weight="normal" fill="#444" text-anchor="middle">PE-A</text>
<text x="386.8" y="489.7" font-size="6.9" font-weight="normal" fill="#4a90cc" stroke="#4a90cc" stroke-width="0.22" text-anchor="start">7.64</text>
<path d="M409.60 526.01 L410.26 525.98 L410.92 526.01 L411.58 525.82 L412.24 525.91 L412.91 525.79 L413.57 525.97 L414.23 525.89 L414.89 525.87 L415.55 525.61 L416.21 525.76 L416.87 525.32 L417.53 525.19 L418.19 525.48 L418.86 525.06 L419.52 524.98 L420.18 524.03 L420.84 521.88 L421.50 520.63 L422.16 518.60 L422.82 515.92 L423.48 514.32 L424.14 511.67 L424.81 509.52 L425.47 507.01 L426.13 503.39 L426.79 502.87 L427.45 499.01 L428.11 498.24 L428.77 498.36 L429.43 488.35 L430.09 491.06 L430.76 484.17 L431.42 487.75 L432.08 494.07 L432.74 501.04 L433.40 502.72 L434.06 505.12 L434.72 509.08 L435.38 509.92 L436.04 511.96 L436.71 514.88 L437.37 517.30 L438.03 519.45 L438.69 520.89 L439.35 523.10 L440.01 523.77 L440.67 523.60 L441.33 523.78 L441.99 524.11 L442.66 524.52 L443.32 524.35 L443.98 524.57 L444.64 525.11 L445.30 525.11 L445.96 525.16 L446.62 525.13 L447.28 525.45 L447.94 525.47 L448.61 525.56 L449.27 525.56 L449.93 525.39 L450.59 525.50 L451.25 525.28 L451.91 525.56 L452.57 525.20 L453.23 525.55 L453.89 525.42 L454.56 525.73 L455.22 525.37 L455.88 525.60 L456.54 525.83 L457.20 525.38" fill="none" stroke="#a2a6b8" stroke-width="0.9" opacity="0.8" stroke-linejoin="round"/>
<path d="M409.60 525.81 L410.26 525.44 L410.92 525.64 L411.58 525.77 L412.24 525.91 L412.91 525.75 L413.57 525.49 L414.23 525.49 L414.89 525.40 L415.55 525.53 L416.21 525.45 L416.87 525.43 L417.53 525.42 L418.19 525.32 L418.86 525.16 L419.52 524.83 L420.18 522.40 L420.84 521.15 L421.50 519.04 L422.16 516.99 L422.82 513.47 L423.48 511.22 L424.14 510.57 L424.81 507.10 L425.47 506.36 L426.13 502.94 L426.79 500.15 L427.45 496.12 L428.11 490.18 L428.77 487.25 L429.43 485.67 L430.09 482.50 L430.76 487.73 L431.42 489.89 L432.08 493.50 L432.74 499.93 L433.40 500.25 L434.06 504.40 L434.72 507.52 L435.38 510.39 L436.04 513.23 L436.71 515.08 L437.37 517.91 L438.03 519.61 L438.69 521.27 L439.35 523.39 L440.01 523.86 L440.67 523.80 L441.33 524.04 L441.99 524.39 L442.66 524.50 L443.32 524.35 L443.98 524.45 L444.64 524.91 L445.30 524.70 L445.96 524.98 L446.62 524.82 L447.28 525.31 L447.94 525.28 L448.61 525.49 L449.27 525.55 L449.93 525.06 L450.59 525.30 L451.25 525.47 L451.91 525.60 L452.57 525.48 L453.23 525.63 L453.89 525.72 L454.56 525.47 L455.22 525.59 L455.88 525.30 L456.54 525.40 L457.20 525.79" fill="none" stroke="#8494d2" stroke-width="1.0" opacity="0.9" stroke-linejoin="round"/>
<line x1="409.2" y1="482.5" x2="409.2" y2="526.8" stroke="#8a8a8a" stroke-width="0.7"/>
<line x1="409.2" y1="526.8" x2="457.2" y2="526.8" stroke="#8a8a8a" stroke-width="0.7"/>
<text x="448.7" y="529.1999999999999" font-size="2" font-weight="normal" fill="#444" text-anchor="middle">PE-A</text>
<text x="440.4" y="489.7" font-size="6.9" font-weight="normal" fill="#4a90cc" stroke="#4a90cc" stroke-width="0.22" text-anchor="start">14.56</text>
<path d="M463.20 525.74 L463.86 525.48 L464.52 525.59 L465.18 525.96 L465.84 525.55 L466.51 525.75 L467.17 525.88 L467.83 525.82 L468.49 525.87 L469.15 525.73 L469.81 525.69 L470.47 525.35 L471.13 525.44 L471.79 525.69 L472.46 525.42 L473.12 525.24 L473.78 525.45 L474.44 524.79 L475.10 522.62 L475.76 520.92 L476.42 518.29 L477.08 516.52 L477.74 514.31 L478.41 510.92 L479.07 507.68 L479.73 505.26 L480.39 501.37 L481.05 502.85 L481.71 497.34 L482.37 498.03 L483.03 485.84 L483.69 489.49 L484.36 488.97 L485.02 491.43 L485.68 497.06 L486.34 500.31 L487.00 503.34 L487.66 505.67 L488.32 508.18 L488.98 510.55 L489.64 513.79 L490.31 516.24 L490.97 518.80 L491.63 520.97 L492.29 522.14 L492.95 523.16 L493.61 523.10 L494.27 523.44 L494.93 523.95 L495.59 523.88 L496.26 524.39 L496.92 523.94 L497.58 524.19 L498.24 524.85 L498.90 524.94 L499.56 524.67 L500.22 524.96 L500.88 524.76 L501.54 525.03 L502.21 525.35 L502.87 525.44 L503.53 525.46 L504.19 525.30 L504.85 525.46 L505.51 525.18 L506.17 525.06 L506.83 525.37 L507.49 525.17 L508.16 525.63 L508.82 525.23 L509.48 525.54 L510.14 525.66 L510.80 525.62" fill="none" stroke="#a2a6b8" stroke-width="0.9" opacity="0.8" stroke-linejoin="round"/>
<path d="M463.20 525.58 L463.86 525.87 L464.52 525.97 L465.18 525.57 L465.84 525.76 L466.51 525.44 L467.17 525.80 L467.83 525.95 L468.49 525.80 L469.15 525.32 L469.81 525.73 L470.47 525.76 L471.13 525.30 L471.79 525.26 L472.46 525.38 L473.12 525.24 L473.78 525.08 L474.44 523.35 L475.10 521.46 L475.76 518.83 L476.42 516.35 L477.08 513.89 L477.74 510.83 L478.41 508.45 L479.07 507.55 L479.73 504.66 L480.39 502.16 L481.05 496.77 L481.71 490.13 L482.37 491.50 L483.03 488.96 L483.69 487.70 L484.36 488.18 L485.02 490.57 L485.68 494.64 L486.34 502.29 L487.00 504.78 L487.66 506.41 L488.32 509.29 L488.98 510.86 L489.64 514.51 L490.31 516.29 L490.97 518.76 L491.63 521.21 L492.29 522.69 L492.95 522.70 L493.61 523.32 L494.27 523.59 L494.93 523.90 L495.59 524.23 L496.26 524.37 L496.92 524.34 L497.58 524.33 L498.24 524.79 L498.90 524.44 L499.56 524.62 L500.22 524.50 L500.88 524.90 L501.54 524.87 L502.21 525.27 L502.87 525.13 L503.53 525.29 L504.19 525.12 L504.85 525.18 L505.51 525.51 L506.17 525.43 L506.83 525.36 L507.49 525.48 L508.16 525.31 L508.82 525.71 L509.48 525.53 L510.14 525.68 L510.80 525.78" fill="none" stroke="#8494d2" stroke-width="1.0" opacity="0.9" stroke-linejoin="round"/>
<line x1="462.8" y1="482.5" x2="462.8" y2="526.8" stroke="#8a8a8a" stroke-width="0.7"/>
<line x1="462.8" y1="526.8" x2="510.8" y2="526.8" stroke="#8a8a8a" stroke-width="0.7"/>
<text x="502.3" y="529.1999999999999" font-size="2" font-weight="normal" fill="#444" text-anchor="middle">PE-A</text>
<text x="494.0" y="489.7" font-size="6.9" font-weight="normal" fill="#4a90cc" stroke="#4a90cc" stroke-width="0.22" text-anchor="start">20.18</text>
<path d="M248.40 571.79 L249.06 570.20 L249.72 568.46 L250.38 566.94 L251.04 566.36 L251.71 564.38 L252.37 562.50 L253.03 558.84 L253.69 557.92 L254.35 556.49 L255.01 553.87 L255.67 554.75 L256.33 549.43 L256.99 547.28 L257.66 548.21 L258.32 544.72 L258.98 541.71 L259.64 533.13 L260.30 536.60 L260.96 542.59 L261.62 538.66 L262.28 542.58 L262.94 550.02 L263.61 550.99 L264.27 553.11 L264.93 558.55 L265.59 560.43 L266.25 563.43 L266.91 566.01 L267.57 568.53 L268.23 570.20 L268.89 573.19 L269.56 574.09 L270.22 574.25 L270.88 574.17 L271.54 574.24 L272.20 574.28 L272.86 574.15 L273.52 574.52 L274.18 574.52 L274.84 574.13 L275.51 574.45 L276.17 574.35 L276.83 574.61 L277.49 574.55 L278.15 574.49 L278.81 574.63 L279.47 574.69 L280.13 574.60 L280.79 574.48 L281.46 574.41 L282.12 574.51 L282.78 574.38 L283.44 574.76 L284.10 574.69 L284.76 574.69 L285.42 574.71 L286.08 574.27 L286.74 574.58 L287.41 574.69 L288.07 574.63 L288.73 574.26 L289.39 574.76 L290.05 574.36 L290.71 574.73 L291.37 574.24 L292.03 574.30 L292.69 574.41 L293.36 574.78 L294.02 574.24 L294.68 574.44 L295.34 574.57 L296.00 574.41" fill="none" stroke="#ac8a8a" stroke-width="0.9" opacity="0.8" stroke-linejoin="round"/>
<path d="M248.40 570.43 L249.06 568.88 L249.72 567.33 L250.38 565.68 L251.04 563.14 L251.71 562.45 L252.37 559.87 L253.03 559.28 L253.69 557.52 L254.35 554.07 L255.01 552.98 L255.67 550.70 L256.33 548.46 L256.99 547.06 L257.66 542.59 L258.32 541.04 L258.98 533.05 L259.64 531.00 L260.30 532.84 L260.96 540.33 L261.62 538.49 L262.28 546.53 L262.94 551.56 L263.61 551.66 L264.27 556.74 L264.93 557.55 L265.59 561.86 L266.25 565.12 L266.91 566.79 L267.57 569.78 L268.23 572.33 L268.89 574.03 L269.56 574.07 L270.22 574.09 L270.88 573.89 L271.54 574.31 L272.20 574.03 L272.86 574.26 L273.52 574.34 L274.18 574.08 L274.84 574.68 L275.51 574.63 L276.17 574.45 L276.83 574.28 L277.49 574.64 L278.15 574.16 L278.81 574.70 L279.47 574.39 L280.13 574.21 L280.79 574.61 L281.46 574.45 L282.12 574.45 L282.78 574.36 L283.44 574.53 L284.10 574.76 L284.76 574.57 L285.42 574.49 L286.08 574.43 L286.74 574.34 L287.41 574.46 L288.07 574.72 L288.73 574.29 L289.39 574.23 L290.05 574.34 L290.71 574.67 L291.37 574.28 L292.03 574.68 L292.69 574.57 L293.36 574.41 L294.02 574.44 L294.68 574.47 L295.34 574.46 L296.00 574.69" fill="none" stroke="#c25c5c" stroke-width="1.0" opacity="0.9" stroke-linejoin="round"/>
<line x1="248" y1="531" x2="248" y2="575.5" stroke="#8a8a8a" stroke-width="0.7"/>
<line x1="248" y1="575.5" x2="296" y2="575.5" stroke="#8a8a8a" stroke-width="0.7"/>
<text x="287.5" y="577.9" font-size="2" font-weight="normal" fill="#444" text-anchor="middle">PE-A</text>
<text x="279.2" y="538.2" font-size="6.9" font-weight="normal" fill="#e03a32" stroke="#e03a32" stroke-width="0.22" text-anchor="start">0.05</text>
<path d="M301.70 574.06 L302.36 574.31 L303.02 573.87 L303.68 573.98 L304.34 574.18 L305.01 573.79 L305.67 572.76 L306.33 571.15 L306.99 569.69 L307.65 568.15 L308.31 566.21 L308.97 563.77 L309.63 561.40 L310.29 558.80 L310.96 556.88 L311.62 553.77 L312.28 551.62 L312.94 553.41 L313.60 545.13 L314.26 545.11 L314.92 542.72 L315.58 543.25 L316.24 539.63 L316.91 541.53 L317.57 544.33 L318.23 541.29 L318.89 547.81 L319.55 548.08 L320.21 549.99 L320.87 554.63 L321.53 558.79 L322.19 561.11 L322.86 561.13 L323.52 564.55 L324.18 566.93 L324.84 568.29 L325.50 570.53 L326.16 572.76 L326.82 573.39 L327.48 573.75 L328.14 573.78 L328.81 573.76 L329.47 574.31 L330.13 574.19 L330.79 574.37 L331.45 574.00 L332.11 574.40 L332.77 574.15 L333.43 574.42 L334.09 574.51 L334.76 574.58 L335.42 574.11 L336.08 574.59 L336.74 574.70 L337.40 574.45 L338.06 574.70 L338.72 574.18 L339.38 574.52 L340.04 574.31 L340.71 574.56 L341.37 574.27 L342.03 574.38 L342.69 574.19 L343.35 574.47 L344.01 574.30 L344.67 574.67 L345.33 574.70 L345.99 574.69 L346.66 574.40 L347.32 574.30 L347.98 574.67 L348.64 574.40 L349.30 574.26" fill="none" stroke="#ac8a8a" stroke-width="0.9" opacity="0.8" stroke-linejoin="round"/>
<path d="M301.70 574.09 L302.36 574.28 L303.02 574.33 L303.68 573.86 L304.34 573.75 L305.01 573.64 L305.67 571.38 L306.33 570.07 L306.99 567.65 L307.65 565.54 L308.31 562.91 L308.97 560.91 L309.63 559.60 L310.29 556.79 L310.96 555.83 L311.62 552.89 L312.28 549.80 L312.94 548.37 L313.60 541.94 L314.26 538.89 L314.92 538.60 L315.58 531.07 L316.24 532.85 L316.91 538.91 L317.57 541.83 L318.23 545.93 L318.89 545.57 L319.55 550.67 L320.21 554.38 L320.87 556.80 L321.53 558.01 L322.19 559.56 L322.86 563.31 L323.52 564.72 L324.18 567.14 L324.84 569.97 L325.50 571.39 L326.16 573.42 L326.82 573.89 L327.48 574.00 L328.14 574.19 L328.81 574.17 L329.47 574.30 L330.13 573.85 L330.79 574.26 L331.45 574.39 L332.11 574.47 L332.77 574.29 L333.43 574.09 L334.09 574.60 L334.76 574.51 L335.42 574.25 L336.08 574.39 L336.74 574.55 L337.40 574.50 L338.06 574.39 L338.72 574.15 L339.38 574.24 L340.04 574.27 L340.71 574.54 L341.37 574.57 L342.03 574.58 L342.69 574.43 L343.35 574.67 L344.01 574.59 L344.67 574.17 L345.33 574.22 L345.99 574.57 L346.66 574.29 L347.32 574.28 L347.98 574.38 L348.64 574.51 L349.30 574.60" fill="none" stroke="#c25c5c" stroke-width="1.0" opacity="0.9" stroke-linejoin="round"/>
<line x1="301.3" y1="531" x2="301.3" y2="575.5" stroke="#8a8a8a" stroke-width="0.7"/>
<line x1="301.3" y1="575.5" x2="349.3" y2="575.5" stroke="#8a8a8a" stroke-width="0.7"/>
<text x="340.8" y="577.9" font-size="2" font-weight="normal" fill="#444" text-anchor="middle">PE-A</text>
<text x="332.5" y="538.2" font-size="6.9" font-weight="normal" fill="#e03a32" stroke="#e03a32" stroke-width="0.22" text-anchor="start">1.22</text>
<path d="M356.00 574.36 L356.66 574.01 L357.32 574.03 L357.98 573.96 L358.64 573.87 L359.31 573.92 L359.97 573.99 L360.63 573.83 L361.29 573.60 L361.95 572.60 L362.61 571.15 L363.27 569.61 L363.93 567.98 L364.59 565.91 L365.26 564.84 L365.92 561.66 L366.58 559.77 L367.24 560.04 L367.90 555.83 L368.56 554.73 L369.22 552.25 L369.88 548.74 L370.54 547.01 L371.21 544.39 L371.87 539.68 L372.53 543.64 L373.19 541.97 L373.85 537.08 L374.51 540.42 L375.17 546.24 L375.83 550.07 L376.49 550.18 L377.16 551.36 L377.82 554.99 L378.48 559.11 L379.14 560.61 L379.80 564.01 L380.46 566.55 L381.12 569.54 L381.78 571.32 L382.44 573.48 L383.11 573.73 L383.77 573.50 L384.43 573.67 L385.09 574.07 L385.75 573.75 L386.41 573.97 L387.07 573.90 L387.73 573.93 L388.39 574.11 L389.06 574.19 L389.72 574.01 L390.38 574.15 L391.04 574.06 L391.70 574.09 L392.36 574.29 L393.02 574.06 L393.68 574.35 L394.34 574.39 L395.01 574.58 L395.67 574.14 L396.33 574.27 L396.99 574.29 L397.65 574.39 L398.31 574.14 L398.97 574.36 L399.63 574.68 L400.29 574.35 L400.96 574.26 L401.62 574.19 L402.28 574.63 L402.94 574.70 L403.60 574.54" fill="none" stroke="#ac8a8a" stroke-width="0.9" opacity="0.8" stroke-linejoin="round"/>
<path d="M356.00 574.48 L356.66 574.11 L357.32 573.97 L357.98 574.02 L358.64 574.37 L359.31 573.90 L359.97 574.19 L360.63 573.66 L361.29 573.68 L361.95 571.48 L362.61 570.23 L363.27 568.22 L363.93 566.03 L364.59 565.29 L365.26 563.29 L365.92 561.53 L366.58 557.63 L367.24 557.89 L367.90 555.94 L368.56 550.30 L369.22 551.10 L369.88 549.79 L370.54 541.60 L371.21 540.34 L371.87 539.76 L372.53 532.64 L373.19 531.00 L373.85 538.80 L374.51 538.14 L375.17 540.79 L375.83 544.46 L376.49 548.86 L377.16 552.78 L377.82 555.79 L378.48 559.48 L379.14 561.50 L379.80 565.51 L380.46 567.69 L381.12 570.00 L381.78 572.30 L382.44 573.06 L383.11 573.45 L383.77 573.89 L384.43 573.87 L385.09 573.94 L385.75 574.15 L386.41 574.00 L387.07 573.77 L387.73 573.94 L388.39 574.48 L389.06 573.99 L389.72 573.96 L390.38 574.22 L391.04 574.56 L391.70 574.51 L392.36 574.20 L393.02 574.29 L393.68 574.66 L394.34 574.26 L395.01 574.13 L395.67 574.12 L396.33 574.14 L396.99 574.48 L397.65 574.61 L398.31 574.71 L398.97 574.47 L399.63 574.56 L400.29 574.49 L400.96 574.72 L401.62 574.69 L402.28 574.45 L402.94 574.56 L403.60 574.65" fill="none" stroke="#c25c5c" stroke-width="1.0" opacity="0.9" stroke-linejoin="round"/>
<line x1="355.6" y1="531" x2="355.6" y2="575.5" stroke="#8a8a8a" stroke-width="0.7"/>
<line x1="355.6" y1="575.5" x2="403.6" y2="575.5" stroke="#8a8a8a" stroke-width="0.7"/>
<text x="395.1" y="577.9" font-size="2" font-weight="normal" fill="#444" text-anchor="middle">PE-A</text>
<text x="386.8" y="538.2" font-size="6.9" font-weight="normal" fill="#e03a32" stroke="#e03a32" stroke-width="0.22" text-anchor="start">2.89</text>
<path d="M409.60 574.49 L410.26 574.29 L410.92 574.45 L411.58 574.34 L412.24 574.31 L412.91 574.35 L413.57 574.58 L414.23 574.44 L414.89 574.56 L415.55 574.71 L416.21 574.49 L416.87 574.11 L417.53 574.28 L418.19 574.53 L418.86 574.48 L419.52 574.29 L420.18 573.77 L420.84 574.08 L421.50 574.02 L422.16 572.65 L422.82 570.28 L423.48 567.86 L424.14 565.42 L424.81 562.81 L425.47 561.71 L426.13 555.91 L426.79 555.07 L427.45 552.04 L428.11 550.35 L428.77 546.38 L429.43 539.71 L430.09 537.13 L430.76 532.22 L431.42 542.27 L432.08 547.38 L432.74 548.31 L433.40 552.50 L434.06 555.64 L434.72 559.59 L435.38 563.54 L436.04 566.12 L436.71 569.82 L437.37 572.41 L438.03 572.83 L438.69 573.16 L439.35 573.25 L440.01 573.75 L440.67 573.73 L441.33 573.74 L441.99 574.09 L442.66 574.18 L443.32 574.07 L443.98 573.91 L444.64 574.27 L445.30 573.85 L445.96 573.97 L446.62 574.00 L447.28 574.18 L447.94 574.16 L448.61 574.10 L449.27 574.04 L449.93 574.18 L450.59 574.63 L451.25 574.30 L451.91 574.45 L452.57 574.30 L453.23 574.52 L453.89 574.17 L454.56 574.24 L455.22 574.32 L455.88 574.50 L456.54 574.37 L457.20 574.44" fill="none" stroke="#ac8a8a" stroke-width="0.9" opacity="0.8" stroke-linejoin="round"/>
<path d="M409.60 574.21 L410.26 574.76 L410.92 574.49 L411.58 574.67 L412.24 574.45 L412.91 574.49 L413.57 574.69 L414.23 574.53 L414.89 574.28 L415.55 574.27 L416.21 574.57 L416.87 574.22 L417.53 574.33 L418.19 574.25 L418.86 574.36 L419.52 574.22 L420.18 573.80 L420.84 574.20 L421.50 573.24 L422.16 570.93 L422.82 568.64 L423.48 566.02 L424.14 563.63 L424.81 559.18 L425.47 557.23 L426.13 553.92 L426.79 551.92 L427.45 545.58 L428.11 546.24 L428.77 542.63 L429.43 537.50 L430.09 532.03 L430.76 536.93 L431.42 543.20 L432.08 548.81 L432.74 549.14 L433.40 554.91 L434.06 558.29 L434.72 561.05 L435.38 564.88 L436.04 568.24 L436.71 570.90 L437.37 573.04 L438.03 573.26 L438.69 573.44 L439.35 573.47 L440.01 573.69 L440.67 573.98 L441.33 573.49 L441.99 574.06 L442.66 573.92 L443.32 574.01 L443.98 574.31 L444.64 574.14 L445.30 574.39 L445.96 574.32 L446.62 574.39 L447.28 574.32 L447.94 574.38 L448.61 574.22 L449.27 574.49 L449.93 574.16 L450.59 574.15 L451.25 574.18 L451.91 574.18 L452.57 574.54 L453.23 574.29 L453.89 574.65 L454.56 574.29 L455.22 574.40 L455.88 574.55 L456.54 574.44 L457.20 574.47" fill="none" stroke="#c25c5c" stroke-width="1.0" opacity="0.9" stroke-linejoin="round"/>
<line x1="409.2" y1="531" x2="409.2" y2="575.5" stroke="#8a8a8a" stroke-width="0.7"/>
<line x1="409.2" y1="575.5" x2="457.2" y2="575.5" stroke="#8a8a8a" stroke-width="0.7"/>
<text x="448.7" y="577.9" font-size="2" font-weight="normal" fill="#444" text-anchor="middle">PE-A</text>
<text x="440.4" y="538.2" font-size="6.9" font-weight="normal" fill="#e03a32" stroke="#e03a32" stroke-width="0.22" text-anchor="start">6.06</text>
<path d="M463.20 574.67 L463.86 574.23 L464.52 574.27 L465.18 574.31 L465.84 574.54 L466.51 574.61 L467.17 574.48 L467.83 574.57 L468.49 574.25 L469.15 574.54 L469.81 574.23 L470.47 574.50 L471.13 574.06 L471.79 574.16 L472.46 573.96 L473.12 574.06 L473.78 573.91 L474.44 573.96 L475.10 573.63 L475.76 572.18 L476.42 570.33 L477.08 567.75 L477.74 566.12 L478.41 562.91 L479.07 560.72 L479.73 558.50 L480.39 556.00 L481.05 549.05 L481.71 550.25 L482.37 544.85 L483.03 538.19 L483.69 537.06 L484.36 536.45 L485.02 544.24 L485.68 544.17 L486.34 547.94 L487.00 550.56 L487.66 555.66 L488.32 559.14 L488.98 560.99 L489.64 562.44 L490.31 566.31 L490.97 567.40 L491.63 570.02 L492.29 572.27 L492.95 572.95 L493.61 573.22 L494.27 572.88 L494.93 573.29 L495.59 573.25 L496.26 573.64 L496.92 573.75 L497.58 573.57 L498.24 573.80 L498.90 574.11 L499.56 574.28 L500.22 574.08 L500.88 573.98 L501.54 574.25 L502.21 574.10 L502.87 574.43 L503.53 573.98 L504.19 574.07 L504.85 574.41 L505.51 574.25 L506.17 574.42 L506.83 574.14 L507.49 574.15 L508.16 574.25 L508.82 574.10 L509.48 574.53 L510.14 574.27 L510.80 574.50" fill="none" stroke="#ac8a8a" stroke-width="0.9" opacity="0.8" stroke-linejoin="round"/>
<path d="M463.20 574.31 L463.86 574.42 L464.52 574.47 L465.18 574.32 L465.84 574.66 L466.51 574.21 L467.17 574.59 L467.83 574.66 L468.49 574.35 L469.15 574.27 L469.81 574.39 L470.47 574.26 L471.13 573.98 L471.79 574.10 L472.46 574.12 L473.12 574.10 L473.78 574.31 L474.44 574.14 L475.10 573.44 L475.76 570.80 L476.42 568.30 L477.08 565.30 L477.74 563.04 L478.41 559.64 L479.07 557.24 L479.73 554.79 L480.39 551.56 L481.05 547.52 L481.71 541.55 L482.37 534.76 L483.03 534.30 L483.69 532.10 L484.36 541.80 L485.02 541.14 L485.68 544.04 L486.34 548.79 L487.00 552.64 L487.66 555.57 L488.32 559.11 L488.98 561.38 L489.64 564.13 L490.31 566.97 L490.97 568.91 L491.63 571.15 L492.29 572.70 L492.95 572.72 L493.61 573.13 L494.27 573.46 L494.93 573.05 L495.59 573.31 L496.26 573.41 L496.92 573.61 L497.58 573.66 L498.24 573.81 L498.90 574.20 L499.56 574.01 L500.22 574.02 L500.88 573.86 L501.54 574.02 L502.21 573.85 L502.87 574.37 L503.53 574.00 L504.19 574.09 L504.85 573.97 L505.51 574.05 L506.17 574.40 L506.83 574.33 L507.49 574.43 L508.16 574.53 L508.82 574.54 L509.48 574.52 L510.14 574.17 L510.80 574.49" fill="none" stroke="#c25c5c" stroke-width="1.0" opacity="0.9" stroke-linejoin="round"/>
<line x1="462.8" y1="531" x2="462.8" y2="575.5" stroke="#8a8a8a" stroke-width="0.7"/>
<line x1="462.8" y1="575.5" x2="510.8" y2="575.5" stroke="#8a8a8a" stroke-width="0.7"/>
<text x="502.3" y="577.9" font-size="2" font-weight="normal" fill="#444" text-anchor="middle">PE-A</text>
<text x="494.0" y="538.2" font-size="6.9" font-weight="normal" fill="#e03a32" stroke="#e03a32" stroke-width="0.22" text-anchor="start">11.50</text>
<line x1="276.7" y1="376" x2="276.7" y2="468.8" stroke="#222" stroke-width="0.8" stroke-dasharray="1.4 1.4"/>
<line x1="276.7" y1="482.5" x2="276.7" y2="575.5" stroke="#222" stroke-width="0.8" stroke-dasharray="1.4 1.4"/>
<line x1="330.0" y1="376" x2="330.0" y2="468.8" stroke="#222" stroke-width="0.8" stroke-dasharray="1.4 1.4"/>
<line x1="330.0" y1="482.5" x2="330.0" y2="575.5" stroke="#222" stroke-width="0.8" stroke-dasharray="1.4 1.4"/>
<line x1="384.3" y1="376" x2="384.3" y2="468.8" stroke="#222" stroke-width="0.8" stroke-dasharray="1.4 1.4"/>
<line x1="384.3" y1="482.5" x2="384.3" y2="575.5" stroke="#222" stroke-width="0.8" stroke-dasharray="1.4 1.4"/>
<line x1="437.9" y1="376" x2="437.9" y2="468.8" stroke="#222" stroke-width="0.8" stroke-dasharray="1.4 1.4"/>
<line x1="437.9" y1="482.5" x2="437.9" y2="575.5" stroke="#222" stroke-width="0.8" stroke-dasharray="1.4 1.4"/>
<line x1="491.5" y1="376" x2="491.5" y2="468.8" stroke="#222" stroke-width="0.8" stroke-dasharray="1.4 1.4"/>
<line x1="491.5" y1="482.5" x2="491.5" y2="575.5" stroke="#222" stroke-width="0.8" stroke-dasharray="1.4 1.4"/>
<text x="270.6" y="587.6" font-size="6.9" font-weight="normal" fill="#222" stroke="#222" stroke-width="0.22" text-anchor="middle">Day -2</text>
<text x="323.3" y="587.6" font-size="6.9" font-weight="normal" fill="#222" stroke="#222" stroke-width="0.22" text-anchor="middle">Day 0</text>
<text x="376.8" y="587.6" font-size="6.9" font-weight="normal" fill="#222" stroke="#222" stroke-width="0.22" text-anchor="middle">Day 2</text>
<text x="430.8" y="587.6" font-size="6.9" font-weight="normal" fill="#222" stroke="#222" stroke-width="0.22" text-anchor="middle">Day 4</text>
<text x="484.3" y="587.6" font-size="6.9" font-weight="normal" fill="#222" stroke="#222" stroke-width="0.22" text-anchor="middle">Day 7</text>
<path d="M248.8 591.2 H291.2 V585.5 L302.6 596.8 L291.2 608 V602.5 H248.8 Z" fill="url(#grn)"/>
<text x="272.6" y="599.2" font-size="6.4" font-weight="normal" fill="#111" stroke="#111" stroke-width="0.22" text-anchor="middle">Transduction</text>
<path d="M304.3 590 H493.2 V583.8 L507.6 595.8 L493.2 607.6 V602.4 H304.3 Z" fill="url(#org)"/>
<text x="404.2" y="600.2" font-size="9.4" font-weight="normal" fill="#222" stroke="#222" stroke-width="0.22" text-anchor="middle">100U/mL IL-3</text>
<text x="211.2" y="626.4" font-size="14" font-weight="bold" fill="#000" stroke="#000" stroke-width="0.22" text-anchor="start">F</text>
<text x="305.6" y="621.3" font-size="6.9" font-weight="bold" fill="#000" stroke="#000" stroke-width="0.22" text-anchor="middle">Caspase-8</text>
<text x="464.6" y="621.6" font-size="6.9" font-weight="bold" fill="#000" stroke="#000" stroke-width="0.22" text-anchor="middle">Caspase-6</text>
<line x1="244.6" y1="635.68" x2="244.6" y2="764.4" stroke="#7a7a7a" stroke-width="0.75"/>
<line x1="245" y1="764.4" x2="360" y2="764.4" stroke="#7a7a7a" stroke-width="0.75"/>
<line x1="245" y1="635.68" x2="246.8" y2="635.68" stroke="#777" stroke-width="0.7"/>
<text x="239.2" y="767.05" font-size="7.4" font-weight="normal" fill="#1a1a1a" stroke="#1a1a1a" stroke-width="0.22" text-anchor="end">0</text>
<text x="239.2" y="750.9599999999999" font-size="7.4" font-weight="normal" fill="#1a1a1a" stroke="#1a1a1a" stroke-width="0.22" text-anchor="end">20</text>
<text x="239.2" y="734.87" font-size="7.4" font-weight="normal" fill="#1a1a1a" stroke="#1a1a1a" stroke-width="0.22" text-anchor="end">40</text>
<text x="239.2" y="718.78" font-size="7.4" font-weight="normal" fill="#1a1a1a" stroke="#1a1a1a" stroke-width="0.22" text-anchor="end">60</text>
<text x="239.2" y="702.6899999999999" font-size="7.4" font-weight="normal" fill="#1a1a1a" stroke="#1a1a1a" stroke-width="0.22" text-anchor="end">80</text>
<text x="239.2" y="686.5999999999999" font-size="7.4" font-weight="normal" fill="#1a1a1a" stroke="#1a1a1a" stroke-width="0.22" text-anchor="end">100</text>
<text x="239.2" y="670.51" font-size="7.4" font-weight="normal" fill="#1a1a1a" stroke="#1a1a1a" stroke-width="0.22" text-anchor="end">120</text>
<text x="239.2" y="654.42" font-size="7.4" font-weight="normal" fill="#1a1a1a" stroke="#1a1a1a" stroke-width="0.22" text-anchor="end">140</text>
<text x="239.2" y="638.3299999999999" font-size="7.4" font-weight="normal" fill="#1a1a1a" stroke="#1a1a1a" stroke-width="0.22" text-anchor="end">160</text>
<text x="220.6" y="701.5" font-size="7.4" font-weight="bold" fill="#111" stroke="#111" stroke-width="0.22" text-anchor="middle" transform="rotate(-90 220.6 701.5)">Activity (Arbitrary units)</text>
<rect x="258.0" y="723.066" width="18.3" height="41.333999999999946" fill="#fff" stroke="#000" stroke-width="1"/>
<rect x="276.8" y="673.4915" width="18.8" height="90.9085" fill="#000" stroke="none" stroke-width="1"/>
<rect x="314.7" y="725.88175" width="18.1" height="38.518249999999966" fill="#fff" stroke="#000" stroke-width="1"/>
<rect x="333.3" y="730.611" width="19.2" height="33.78899999999999" fill="#000" stroke="none" stroke-width="1"/>
<line x1="267.4" y1="711.8" x2="267.4" y2="733" stroke="#222" stroke-width="0.8"/>
<line x1="264.4" y1="711.8" x2="270.4" y2="711.8" stroke="#222" stroke-width="0.8"/>
<line x1="264.4" y1="733" x2="270.4" y2="733" stroke="#222" stroke-width="0.8"/>
<line x1="285.8" y1="655.5" x2="285.8" y2="674" stroke="#222" stroke-width="0.8"/>
<line x1="282.8" y1="655.5" x2="288.8" y2="655.5" stroke="#222" stroke-width="0.8"/>
<line x1="323.8" y1="719.5" x2="323.8" y2="731.8" stroke="#222" stroke-width="0.8"/>
<line x1="320.8" y1="719.5" x2="326.8" y2="719.5" stroke="#222" stroke-width="0.8"/>
<line x1="320.8" y1="731.8" x2="326.8" y2="731.8" stroke="#222" stroke-width="0.8"/>
<line x1="343" y1="727" x2="343" y2="731" stroke="#222" stroke-width="0.8"/>
<line x1="340" y1="727" x2="346" y2="727" stroke="#222" stroke-width="0.8"/>
<path d="M277.5 648.6 V647 H348.8 V648.6 M313.3 647 V645.6" fill="none" stroke="#555" stroke-width="0.7"/>
<text x="315" y="645" font-size="8.5" font-weight="bold" fill="#000" stroke="#000" stroke-width="0.22" text-anchor="middle">**</text>
<text x="274.2" y="770.4" font-size="7.1" font-weight="bold" fill="#000" stroke="#000" stroke-width="0.22" text-anchor="end" transform="rotate(-45 274.2 770.4)">GFP</text>
<text x="293.0" y="770.4" font-size="7.1" font-weight="bold" fill="#000" stroke="#000" stroke-width="0.22" text-anchor="end" transform="rotate(-45 293.0 770.4)">GFP</text>
<text x="298.6" y="776.0" font-size="7.1" font-weight="bold" fill="#000" stroke="#000" stroke-width="0.22" text-anchor="end" transform="rotate(-45 298.6 776.0)">+ TRAIL</text>
<text x="328.4" y="770.4" font-size="7.1" font-weight="bold" fill="#000" stroke="#000" stroke-width="0.22" text-anchor="end" transform="rotate(-45 328.4 770.4)">NPMc</text>
<text x="350.4" y="770.4" font-size="7.1" font-weight="bold" fill="#000" stroke="#000" stroke-width="0.22" text-anchor="end" transform="rotate(-45 350.4 770.4)">NPMc</text>
<text x="356.0" y="776.0" font-size="7.1" font-weight="bold" fill="#000" stroke="#000" stroke-width="0.22" text-anchor="end" transform="rotate(-45 356.0 776.0)">+ TRAIL</text>
<line x1="402.90000000000003" y1="635.68" x2="402.90000000000003" y2="764.4" stroke="#7a7a7a" stroke-width="0.75"/>
<line x1="403.3" y1="764.4" x2="516.3" y2="764.4" stroke="#7a7a7a" stroke-width="0.75"/>
<line x1="403.3" y1="635.68" x2="405.1" y2="635.68" stroke="#777" stroke-width="0.7"/>
<text x="397.5" y="767.05" font-size="7.4" font-weight="normal" fill="#1a1a1a" stroke="#1a1a1a" stroke-width="0.22" text-anchor="end">0</text>
<text x="397.5" y="750.9599999999999" font-size="7.4" font-weight="normal" fill="#1a1a1a" stroke="#1a1a1a" stroke-width="0.22" text-anchor="end">20</text>
<text x="397.5" y="734.87" font-size="7.4" font-weight="normal" fill="#1a1a1a" stroke="#1a1a1a" stroke-width="0.22" text-anchor="end">40</text>
<text x="397.5" y="718.78" font-size="7.4" font-weight="normal" fill="#1a1a1a" stroke="#1a1a1a" stroke-width="0.22" text-anchor="end">60</text>
<text x="397.5" y="702.6899999999999" font-size="7.4" font-weight="normal" fill="#1a1a1a" stroke="#1a1a1a" stroke-width="0.22" text-anchor="end">80</text>
<text x="397.5" y="686.5999999999999" font-size="7.4" font-weight="normal" fill="#1a1a1a" stroke="#1a1a1a" stroke-width="0.22" text-anchor="end">100</text>
<text x="397.5" y="670.51" font-size="7.4" font-weight="normal" fill="#1a1a1a" stroke="#1a1a1a" stroke-width="0.22" text-anchor="end">120</text>
<text x="397.5" y="654.42" font-size="7.4" font-weight="normal" fill="#1a1a1a" stroke="#1a1a1a" stroke-width="0.22" text-anchor="end">140</text>
<text x="397.5" y="638.3299999999999" font-size="7.4" font-weight="normal" fill="#1a1a1a" stroke="#1a1a1a" stroke-width="0.22" text-anchor="end">160</text>
<text x="378.90000000000003" y="701.5" font-size="7.4" font-weight="bold" fill="#111" stroke="#111" stroke-width="0.22" text-anchor="middle" transform="rotate(-90 378.90000000000003 701.5)">Activity (Arbitrary units)</text>
<rect x="417.3" y="721.69835" width="17.8" height="42.70164999999997" fill="#fff" stroke="#000" stroke-width="1"/>
<rect x="435.6" y="665.4465" width="19.4" height="98.95349999999996" fill="#000" stroke="none" stroke-width="1"/>
<rect x="473.5" y="714.6992" width="18" height="49.70079999999996" fill="#fff" stroke="#000" stroke-width="1"/>
<rect x="492" y="728.6802" width="19.3" height="35.719799999999964" fill="#000" stroke="none" stroke-width="1"/>
<line x1="426.8" y1="711.8" x2="426.8" y2="731.8" stroke="#222" stroke-width="0.8"/>
<line x1="423.8" y1="711.8" x2="429.8" y2="711.8" stroke="#222" stroke-width="0.8"/>
<line x1="423.8" y1="731.8" x2="429.8" y2="731.8" stroke="#222" stroke-width="0.8"/>
<line x1="445" y1="641.3" x2="445" y2="666" stroke="#222" stroke-width="0.8"/>
<line x1="442" y1="641.3" x2="448" y2="641.3" stroke="#222" stroke-width="0.8"/>
<line x1="482.5" y1="706.8" x2="482.5" y2="721.8" stroke="#222" stroke-width="0.8"/>
<line x1="479.5" y1="706.8" x2="485.5" y2="706.8" stroke="#222" stroke-width="0.8"/>
<line x1="479.5" y1="721.8" x2="485.5" y2="721.8" stroke="#222" stroke-width="0.8"/>
<line x1="501.8" y1="725" x2="501.8" y2="729" stroke="#222" stroke-width="0.8"/>
<line x1="498.8" y1="725" x2="504.8" y2="725" stroke="#222" stroke-width="0.8"/>
<path d="M438.3 637.9 V636.3 H507.5 V637.9 M472.5 636.3 V634.9" fill="none" stroke="#555" stroke-width="0.7"/>
<text x="473.8" y="634.3" font-size="8.5" font-weight="bold" fill="#000" stroke="#000" stroke-width="0.22" text-anchor="middle">**</text>
<text x="429.4" y="769.6" font-size="7.1" font-weight="bold" fill="#000" stroke="#000" stroke-width="0.22" text-anchor="end" transform="rotate(-45 429.4 769.6)">GFP</text>
<text x="450.2" y="769.6" font-size="7.1" font-weight="bold" fill="#000" stroke="#000" stroke-width="0.22" text-anchor="end" transform="rotate(-45 450.2 769.6)">GFP</text>
<text x="455.8" y="775.2" font-size="7.1" font-weight="bold" fill="#000" stroke="#000" stroke-width="0.22" text-anchor="end" transform="rotate(-45 455.8 775.2)">+ TRAIL</text>
<text x="484.0" y="769.8" font-size="7.1" font-weight="bold" fill="#000" stroke="#000" stroke-width="0.22" text-anchor="end" transform="rotate(-45 484.0 769.8)">NPMc</text>
<text x="506.6" y="769.8" font-size="7.1" font-weight="bold" fill="#000" stroke="#000" stroke-width="0.22" text-anchor="end" transform="rotate(-45 506.6 769.8)">NPMc</text>
<text x="512.2" y="775.4" font-size="7.1" font-weight="bold" fill="#000" stroke="#000" stroke-width="0.22" text-anchor="end" transform="rotate(-45 512.2 775.4)">+ TRAIL</text>
</svg>
</body></html>
